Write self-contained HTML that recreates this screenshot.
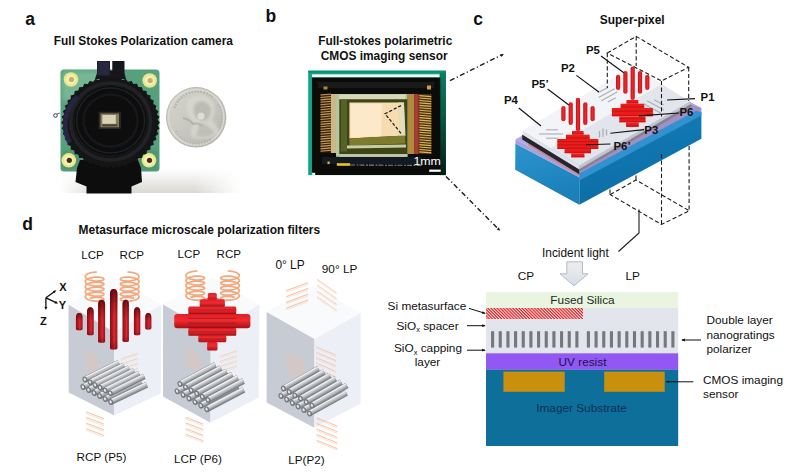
<!DOCTYPE html>
<html lang="en"><head><meta charset="utf-8"><title>Full Stokes polarization camera figure</title>
<style>
html,body{margin:0;padding:0;background:#fff;}
body{width:800px;height:473px;overflow:hidden;}
svg{display:block;font-family:"Liberation Sans", Arial, sans-serif;}
</style></head><body>
<svg width="800" height="473" viewBox="0 0 800 473">
<rect width="800" height="473" fill="#ffffff"/>
<defs>
<filter id="b1" x="-10%" y="-10%" width="120%" height="120%"><feGaussianBlur stdDeviation="0.6"/></filter>
<filter id="b2" x="-10%" y="-10%" width="120%" height="120%"><feGaussianBlur stdDeviation="1.2"/></filter>
<filter id="b3" x="-20%" y="-20%" width="140%" height="140%"><feGaussianBlur stdDeviation="2.5"/></filter>
<filter id="b05" x="-10%" y="-10%" width="120%" height="120%"><feGaussianBlur stdDeviation="0.35"/></filter>
<linearGradient id="pil" x1="0" x2="1" y1="0" y2="0">
<stop offset="0" stop-color="#8a0d14"/><stop offset="0.3" stop-color="#b4161e"/><stop offset="0.6" stop-color="#d22a32"/><stop offset="1" stop-color="#9c1018"/>
</linearGradient>
<linearGradient id="pilcap" x1="0" x2="0" y1="0" y2="1">
<stop offset="0" stop-color="#4a0508" stop-opacity="0.75"/><stop offset="0.25" stop-color="#4a0508" stop-opacity="0.25"/><stop offset="0.45" stop-color="#4a0508" stop-opacity="0"/><stop offset="0.85" stop-color="#4a0508" stop-opacity="0"/><stop offset="1" stop-color="#4a0508" stop-opacity="0.35"/>
</linearGradient>
<linearGradient id="pilc" x1="0" x2="1" y1="0" y2="0">
<stop offset="0" stop-color="#c01018"/><stop offset="0.5" stop-color="#ee2a2e"/><stop offset="1" stop-color="#c41218"/>
</linearGradient>
<linearGradient id="bar" x1="0" x2="0" y1="0" y2="1">
<stop offset="0" stop-color="#e02026"/><stop offset="0.45" stop-color="#ee2c30"/><stop offset="1" stop-color="#a81016"/>
</linearGradient>
<linearGradient id="rod" x1="0" x2="0" y1="0" y2="1">
<stop offset="0" stop-color="#f2f3f5"/><stop offset="0.35" stop-color="#c4c6ca"/><stop offset="1" stop-color="#6c6f75"/>
</linearGradient>
<linearGradient id="coin" x1="0" x2="1" y1="0" y2="1">
<stop offset="0" stop-color="#d6d5ce"/><stop offset="0.5" stop-color="#c9c8c0"/><stop offset="1" stop-color="#b4b3ab"/>
</linearGradient>
<radialGradient id="ring" cx="0.5" cy="0.5" r="0.5">
<stop offset="0" stop-color="#0c0c0e"/><stop offset="0.7" stop-color="#121214"/><stop offset="0.76" stop-color="#2a2a30"/><stop offset="0.9" stop-color="#1a1a1e"/><stop offset="1" stop-color="#0e0e10"/>
</radialGradient>
<pattern id="hatch" width="2.2" height="2.2" patternUnits="userSpaceOnUse" patternTransform="rotate(45)">
<rect width="2.2" height="2.2" fill="#f6d8d6"/><rect width="2.2" height="1.15" fill="#d8262c"/>
</pattern>
<linearGradient id="blueL" x1="0" x2="0.3" y1="0" y2="1">
<stop offset="0" stop-color="#2c95cd"/><stop offset="1" stop-color="#1b7fb9"/>
</linearGradient>
<linearGradient id="blueR" x1="0" x2="0.2" y1="0" y2="1">
<stop offset="0" stop-color="#137cb6"/><stop offset="1" stop-color="#0d6ea6"/>
</linearGradient>
<linearGradient id="flV" x1="0" x2="0" y1="0" y2="1">
<stop offset="0" stop-color="#dddcd6" stop-opacity="0"/><stop offset="1" stop-color="#d9d8d2" stop-opacity="1"/>
</linearGradient>
<linearGradient id="flH" x1="0" x2="1" y1="0" y2="0">
<stop offset="0" stop-color="#fff" stop-opacity="0"/><stop offset="0.2" stop-color="#fff" stop-opacity="1"/><stop offset="0.75" stop-color="#fff" stop-opacity="1"/><stop offset="1" stop-color="#fff" stop-opacity="0"/>
</linearGradient>
<mask id="flM"><rect x="60" y="165" width="180" height="28" fill="url(#flH)"/></mask>
<linearGradient id="gstrip" x1="0" x2="0" y1="0" y2="1">
<stop offset="0" stop-color="#06241a" stop-opacity="0"/><stop offset="0.35" stop-color="#06241a" stop-opacity="0.35"/><stop offset="1" stop-color="#04130d" stop-opacity="0.92"/>
</linearGradient>
<linearGradient id="arrowg" x1="0" x2="0" y1="0" y2="1">
<stop offset="0" stop-color="#ececec"/><stop offset="0.5" stop-color="#e4e7ea"/><stop offset="1" stop-color="#d3dce7"/>
</linearGradient>
</defs>
<text x="25.3" y="25" font-size="17.5" font-weight="700" text-anchor="start" fill="#111" >a</text>
<text x="265.6" y="22" font-size="17.5" font-weight="700" text-anchor="start" fill="#111" >b</text>
<text x="473.3" y="25" font-size="17.5" font-weight="700" text-anchor="start" fill="#111" >c</text>
<text x="22.3" y="229.8" font-size="17.5" font-weight="700" text-anchor="start" fill="#111" >d</text>
<text x="143.4" y="44.6" font-size="11.9" font-weight="700" text-anchor="middle" fill="#111" >Full Stokes Polarization camera</text>
<text x="385.2" y="44.6" font-size="11.9" font-weight="700" text-anchor="middle" fill="#111" >Full-stokes polarimetric</text>
<text x="384.2" y="60" font-size="11.9" font-weight="700" text-anchor="middle" fill="#111" >CMOS imaging sensor</text>
<text x="632.2" y="24.4" font-size="11.9" font-weight="700" text-anchor="middle" fill="#111" >Super-pixel</text>
<text x="78.6" y="234" font-size="11.95" font-weight="700" text-anchor="start" fill="#111" >Metasurface microscale polarization filters</text>
<g id="camera">
<rect x="60" y="168" width="180" height="25" fill="url(#flV)" mask="url(#flM)"/>
<rect x="60.500" y="69.500" width="99" height="102" rx="3.500" fill="#56a07e" filter="url(#b05)"/>
<rect x="62" y="71" width="60" height="30" rx="3" fill="#8cc6a4" opacity="0.6" filter="url(#b3)"/>
<rect x="62" y="150" width="96" height="20" rx="3" fill="#4a8a6a" opacity="0.5" filter="url(#b2)"/>
<circle cx="71" cy="79.5" r="7.3" fill="#e9e78c" filter="url(#b05)"/>
<circle cx="71" cy="79.5" r="5" fill="#f3f0b4" filter="url(#b05)"/>
<circle cx="71.5" cy="79.5" r="2.6" fill="#c8aa7a" filter="url(#b05)"/>
<circle cx="149.7" cy="80.5" r="7.3" fill="#e9e78c" filter="url(#b05)"/>
<circle cx="149.7" cy="80.5" r="5" fill="#f3f0b4" filter="url(#b05)"/>
<circle cx="150.2" cy="80.5" r="2.6" fill="#c8aa7a" filter="url(#b05)"/>
<circle cx="68.8" cy="160.3" r="7.3" fill="#e9e78c" filter="url(#b05)"/>
<circle cx="68.8" cy="160.3" r="5" fill="#f3f0b4" filter="url(#b05)"/>
<circle cx="69.3" cy="160.3" r="2.6" fill="#4a2a22" filter="url(#b05)"/>
<circle cx="149" cy="160.3" r="7.3" fill="#e9e78c" filter="url(#b05)"/>
<circle cx="149" cy="160.3" r="5" fill="#f3f0b4" filter="url(#b05)"/>
<circle cx="149.5" cy="160.3" r="2.6" fill="#4a2a22" filter="url(#b05)"/>
<path d="M97 61h13v9.500h2.300v-9.500h12.200v12l1.500 6h-31l2-6z" fill="#15161a" filter="url(#b05)"/>
<path d="M97.500 61.500h12v14h-12z" fill="#2a2a48" opacity="0.85" filter="url(#b05)"/>
<path d="M80 160l-3 8l-1.500 14l11 4.500v7h45v-7l10.500-4.500l-1-14l-3-8z" fill="#0d0e0d" filter="url(#b05)"/>
<polygon points="159.9,122.6 157.6,125.4 159.5,128.4 156.8,130.8 158.4,134.0 155.4,136.2 156.4,139.5 153.2,141.3 153.8,144.8 150.4,146.1 150.5,149.6 146.9,150.6 146.5,154.1 142.8,154.6 142.0,158.0 138.3,158.1 137.0,161.4 133.3,161.1 131.6,164.2 127.9,163.4 125.8,166.3 122.3,165.1 119.8,167.8 116.5,166.2 113.7,168.5 110.6,166.5 107.5,168.5 104.7,166.2 101.4,167.8 98.9,165.1 95.4,166.3 93.3,163.4 89.6,164.2 87.9,161.1 84.2,161.4 82.9,158.1 79.2,158.0 78.4,154.6 74.7,154.1 74.3,150.6 70.7,149.6 70.8,146.1 67.4,144.8 68.0,141.3 64.8,139.5 65.8,136.2 62.8,134.0 64.4,130.8 61.7,128.4 63.6,125.4 61.3,122.6 63.6,119.8 61.7,116.8 64.4,114.4 62.8,111.2 65.8,109.0 64.8,105.7 68.0,103.9 67.4,100.4 70.8,99.1 70.7,95.6 74.3,94.6 74.7,91.1 78.4,90.6 79.2,87.2 82.9,87.1 84.2,83.8 87.9,84.1 89.6,81.0 93.3,81.8 95.4,78.9 98.9,80.1 101.4,77.4 104.7,79.0 107.5,76.7 110.6,78.7 113.7,76.7 116.5,79.0 119.8,77.4 122.3,80.1 125.8,78.9 127.9,81.8 131.6,81.0 133.3,84.1 137.0,83.8 138.3,87.1 142.0,87.2 142.8,90.6 146.5,91.1 146.9,94.6 150.5,95.6 150.4,99.1 153.8,100.4 153.2,103.9 156.4,105.7 155.4,109.0 158.4,111.2 156.8,114.4 159.5,116.8 157.6,119.8" fill="#121314" filter="url(#b05)"/>
<ellipse cx="110.6" cy="122.6" rx="46.500" ry="43.500" fill="#141516"/>
<path d="M69.6 142.6a43 40 0 0 1 8 -46" fill="none" stroke="#2c2a4e" stroke-width="5" opacity="0.85" filter="url(#b1)"/>
<ellipse cx="110.6" cy="121.6" rx="40" ry="38.500" fill="none" stroke="#26272b" stroke-width="3.500" opacity="0.8" filter="url(#b1)"/>
<ellipse cx="110.6" cy="120.6" rx="35.600" ry="34.200" fill="#08090a" filter="url(#b05)"/>
<ellipse cx="110.6" cy="120.6" rx="34" ry="32.500" fill="none" stroke="#1f2022" stroke-width="1.500" filter="url(#b05)"/>
<ellipse cx="110.6" cy="120.6" rx="27" ry="26" fill="none" stroke="#17181a" stroke-width="2.500" filter="url(#b1)"/>
<circle cx="55.500" cy="115.500" r="1.800" fill="none" stroke="#3a3a3a" stroke-width="1" filter="url(#b05)"/>
<path d="M57 114l3 -1" stroke="#444" stroke-width="0.8"/>
<rect x="98.600" y="111.800" width="22.300" height="17.300" rx="1" fill="#2c2922" filter="url(#b05)"/>
<rect x="100.500" y="113.500" width="18.500" height="13.800" fill="#857b62" filter="url(#b05)"/>
<rect x="102.300" y="115" width="13.500" height="8.800" fill="#d9d1b6" filter="url(#b05)"/>
<rect x="102.300" y="124.300" width="15" height="2" fill="#4a4436" filter="url(#b05)"/>
<circle cx="196.200" cy="117.300" r="30.200" fill="#b6b5ae" filter="url(#b05)"/>
<circle cx="196.200" cy="117.300" r="29.300" fill="url(#coin)"/>
<circle cx="196.200" cy="117.300" r="27.600" fill="none" stroke="#dcdbd4" stroke-width="1.600" opacity="0.9" filter="url(#b05)"/>
<path d="M174.500 108a24 24 0 0 1 38 -11" fill="none" stroke="#a3a29b" stroke-width="2.400" stroke-dasharray="1.600 1.400" opacity="0.6" filter="url(#b05)"/>
<path d="M176 131a24 24 0 0 0 36 8" fill="none" stroke="#a3a29b" stroke-width="2" stroke-dasharray="1.500 1.500" opacity="0.45" filter="url(#b05)"/>
<path d="M218 104a24 24 0 0 1 0 27" fill="none" stroke="#a9a8a1" stroke-width="2" stroke-dasharray="1.500 1.500" opacity="0.45" filter="url(#b05)"/>
<path d="M188 100c6-6 18-6 24 1c4 6 4 13 0 18c3 5 7 9 8 14c-7 6-20 8-29 4c-1-6 0-11 3-15c-6-5-9-14-6-22z" fill="#dad9d2" opacity="0.7" filter="url(#b2)"/>
<path d="M196 103c5-3 12-1 14 4c2 5 0 10-4 13c-5 1-9-1-11-4c-2-4-2-9 1-13z" fill="#a5a49d" opacity="0.5" filter="url(#b2)"/>
<path d="M183 118c4 1 8 3 10 6c3-1 7 0 9 2" fill="none" stroke="#9e9d96" stroke-width="2.200" opacity="0.5" filter="url(#b1)"/>
<path d="M200 122c5 2 11 6 14 11c-5 4-12 5-18 3z" fill="#b1b0a9" opacity="0.55" filter="url(#b2)"/>
<circle cx="201" cy="116" r="3.500" fill="#ecebe4" opacity="0.7" filter="url(#b1)"/>
</g>
<g id="chip">
<rect x="308.200" y="70.700" width="137.700" height="104.400" fill="#12a486"/>
<rect x="440" y="72" width="5.900" height="103" fill="#0b7d62"/>
<rect x="440" y="72" width="5.900" height="103.100" fill="url(#gstrip)"/>
<rect x="308.200" y="70.700" width="137.700" height="2" fill="#0c8c70"/>
<rect x="312" y="74.300" width="127.500" height="3.200" fill="#eef4f0" filter="url(#b05)"/>
<path d="M312 77.500h128.300v97.600h-125.500l-2.800-3z" fill="#0b0b0a"/>
<path d="M318 82h116v6h-116z" fill="#1c1c1a" opacity="0.9" filter="url(#b1)"/>
<path d="M322 157h100v7h-100z" fill="#191a26" opacity="0.9" filter="url(#b05)"/>
<rect x="320.500" y="94" width="11" height="58.500" fill="#3a2410"/>
<rect x="419" y="94" width="12.500" height="60" fill="#4a3212"/>
<path d="M320.500 95.0l10.500 -1" stroke="#c89a58" stroke-width="1.1"/>
<path d="M419.300 95.6l12 1" stroke="#e0b858" stroke-width="1.1"/>
<path d="M320.500 97.5l10.500 -1" stroke="#c89a58" stroke-width="1.1"/>
<path d="M419.300 98.0l12 1" stroke="#e0b858" stroke-width="1.1"/>
<path d="M320.500 99.9l10.500 -1" stroke="#c89a58" stroke-width="1.1"/>
<path d="M419.300 100.5l12 1" stroke="#e0b858" stroke-width="1.1"/>
<path d="M320.500 102.3l10.500 -1" stroke="#c89a58" stroke-width="1.1"/>
<path d="M419.300 102.9l12 1" stroke="#e0b858" stroke-width="1.1"/>
<path d="M320.500 104.8l10.500 -1" stroke="#c89a58" stroke-width="1.1"/>
<path d="M419.300 105.4l12 1" stroke="#e0b858" stroke-width="1.1"/>
<path d="M320.500 107.2l10.500 -1" stroke="#c89a58" stroke-width="1.1"/>
<path d="M419.300 107.8l12 1" stroke="#e0b858" stroke-width="1.1"/>
<path d="M320.500 109.7l10.500 -1" stroke="#c89a58" stroke-width="1.1"/>
<path d="M419.300 110.3l12 1" stroke="#e0b858" stroke-width="1.1"/>
<path d="M320.500 112.2l10.500 -1" stroke="#c89a58" stroke-width="1.1"/>
<path d="M419.300 112.8l12 1" stroke="#e0b858" stroke-width="1.1"/>
<path d="M320.500 114.6l10.500 -1" stroke="#c89a58" stroke-width="1.1"/>
<path d="M419.300 115.2l12 1" stroke="#e0b858" stroke-width="1.1"/>
<path d="M320.500 117.0l10.500 -1" stroke="#c89a58" stroke-width="1.1"/>
<path d="M419.300 117.6l12 1" stroke="#e0b858" stroke-width="1.1"/>
<path d="M320.500 119.5l10.500 -1" stroke="#c89a58" stroke-width="1.1"/>
<path d="M419.300 120.1l12 1" stroke="#e0b858" stroke-width="1.1"/>
<path d="M320.500 122.0l10.500 -1" stroke="#c89a58" stroke-width="1.1"/>
<path d="M419.300 122.5l12 1" stroke="#e0b858" stroke-width="1.1"/>
<path d="M320.500 124.4l10.500 -1" stroke="#c89a58" stroke-width="1.1"/>
<path d="M419.300 125.0l12 1" stroke="#e0b858" stroke-width="1.1"/>
<path d="M320.500 126.8l10.500 -1" stroke="#c89a58" stroke-width="1.1"/>
<path d="M419.300 127.4l12 1" stroke="#e0b858" stroke-width="1.1"/>
<path d="M320.500 129.3l10.500 -1" stroke="#c89a58" stroke-width="1.1"/>
<path d="M419.300 129.9l12 1" stroke="#e0b858" stroke-width="1.1"/>
<path d="M320.500 131.8l10.500 -1" stroke="#c89a58" stroke-width="1.1"/>
<path d="M419.300 132.3l12 1" stroke="#e0b858" stroke-width="1.1"/>
<path d="M320.500 134.2l10.500 -1" stroke="#c89a58" stroke-width="1.1"/>
<path d="M419.300 134.8l12 1" stroke="#e0b858" stroke-width="1.1"/>
<path d="M320.500 136.7l10.500 -1" stroke="#c89a58" stroke-width="1.1"/>
<path d="M419.300 137.2l12 1" stroke="#e0b858" stroke-width="1.1"/>
<path d="M320.500 139.1l10.500 -1" stroke="#c89a58" stroke-width="1.1"/>
<path d="M419.300 139.7l12 1" stroke="#e0b858" stroke-width="1.1"/>
<path d="M320.500 141.6l10.500 -1" stroke="#c89a58" stroke-width="1.1"/>
<path d="M419.300 142.2l12 1" stroke="#e0b858" stroke-width="1.1"/>
<path d="M320.500 144.0l10.500 -1" stroke="#c89a58" stroke-width="1.1"/>
<path d="M419.300 144.6l12 1" stroke="#e0b858" stroke-width="1.1"/>
<path d="M320.500 146.4l10.500 -1" stroke="#c89a58" stroke-width="1.1"/>
<path d="M419.300 147.0l12 1" stroke="#e0b858" stroke-width="1.1"/>
<path d="M320.500 148.9l10.500 -1" stroke="#c89a58" stroke-width="1.1"/>
<path d="M419.300 149.5l12 1" stroke="#e0b858" stroke-width="1.1"/>
<path d="M320.500 151.3l10.500 -1" stroke="#c89a58" stroke-width="1.1"/>
<path d="M419.300 151.9l12 1" stroke="#e0b858" stroke-width="1.1"/>
<rect x="331" y="94" width="5" height="59" fill="#c9b888" filter="url(#b05)"/>
<rect x="414.200" y="94" width="4.600" height="60" fill="#a83a30" filter="url(#b05)"/>
<rect x="407.400" y="94" width="6.800" height="60" fill="#b08a3c" filter="url(#b05)"/>
<rect x="336" y="94" width="71.500" height="62.800" fill="#b7c4a0" filter="url(#b05)"/>
<rect x="339.300" y="99.200" width="68" height="55" fill="#3c4418" filter="url(#b05)"/>
<rect x="339.300" y="94.500" width="66" height="4.600" fill="#d8d8b8" filter="url(#b05)"/>
<rect x="341" y="99.500" width="6" height="52" fill="#5a6a2a" opacity="0.8" filter="url(#b05)"/>
<path d="M349.400 102.400h54.500l1 33l-55.500 3z" fill="#f6dcb0" filter="url(#b05)"/>
<path d="M351 104h31l-1 32l-30 1.500z" fill="#fdebcc" opacity="0.9" filter="url(#b05)"/>
<path d="M398 102.400h6l1.500 33.500l-6 2z" fill="#e4dcbc" opacity="0.95" filter="url(#b05)"/>
<path d="M349.400 138.400l55.500-3l0.500 8l-56 2z" fill="#7d7c2e" filter="url(#b05)"/>
<path d="M347 145.500l59-1v3l-59 1z" fill="#c8cca4" filter="url(#b05)"/>
<rect x="339.300" y="154.200" width="68" height="2.600" fill="#c4c8a8" filter="url(#b05)"/>
<path d="M350 165l72 0.400" stroke="#9a9a92" stroke-width="1.1" stroke-dasharray="5 1.5 2 1" opacity="0.85"/>
<rect x="336.800" y="163.200" width="13.200" height="2.600" fill="#e6c81e"/>
<rect x="327.500" y="161.500" width="2.200" height="2.600" fill="#d8b83a"/>
<rect x="323.500" y="86.500" width="4" height="3" fill="#a8883c" filter="url(#b05)"/>
<rect x="427" y="85.500" width="4" height="4" fill="#c8a040" filter="url(#b05)"/>
<rect x="312.200" y="172.800" width="3" height="2.300" fill="#e8f4f0"/>
<path d="M401 105.600L385 113.800L401.500 134" fill="none" stroke="#1c1c1c" stroke-width="1.2" stroke-dasharray="3.2 1.8"/>
<rect x="429.200" y="169.600" width="11.500" height="2.200" fill="#fff"/>
<text x="413.400" y="164.500" font-size="11.600" fill="#fff" textLength="27.500" lengthAdjust="spacingAndGlyphs">1mm</text>
</g>
<path d="M450 80.700L503 54.300" stroke="#1c1c1c" stroke-width="1.4" stroke-dasharray="5 2.5 1.2 2.5" fill="none"/>
<path d="M503.800 53.900l-3.600 0.300l1.400 2.800z" fill="#222"/>
<path d="M446 176.400L499.300 230" stroke="#1c1c1c" stroke-width="1.4" stroke-dasharray="5 2.5 1.2 2.5" fill="none"/>
<path d="M500 230.700l-3.300-1.200l2.200-2.200z" fill="#222"/>
<g id="superpixel">
<polygon points="515.4,143.4 579.3,177.3 579.3,204.8 515.2,169.8" fill="url(#blueL)" />
<polygon points="579.3,177.3 701.4,112.0 701.4,138.8 579.3,204.8" fill="url(#blueR)" />
<polygon points="515.6,139.2 637.5,73.0 701.4,108.0 579.3,173.5" fill="#b5a6e4" />
<polygon points="515.6,139.2 579.3,173.3 579.3,177.5 515.4,143.6" fill="#a9a0de" />
<polygon points="579.3,168.5 690.0,104.5 701.4,108.0 701.4,112.4 579.3,177.6" fill="#9d92c6" />
<polygon points="579.3,173.6 696.0,110.8 701.4,112.2 701.4,115.6 579.3,180.6" fill="#3391cf" />
<polygon points="528.0,143.0 579.3,174.0 579.3,176.3 528.0,145.2" fill="#c58a88" />
<polygon points="522.2,134.4 579.3,169.1 579.3,174.3 522.2,139.6" fill="#26252f" />
<polygon points="522.7,130.8 579.3,165.5 579.3,169.4 522.7,134.7" fill="#dfe2e6" />
<polygon points="579.3,168.5 690.0,104.3 693.0,106.1 579.3,171.7" fill="#8d7f90" />
<polygon points="579.3,165.5 690.0,101.5 690.0,104.5 579.3,168.9" fill="#bfc5cd" />
<polygon points="522.7,130.8 633.4,66.8 690,101.5 579.3,165.5" fill="#e2e6ec"/>
<polygon points="522.7,130.8 633.4,66.8 661.7,84.15 551.0,148.15" fill="#f2f4f7"/>
<path d="M546 129.8H558" stroke="#a9adb6" stroke-width="1.1"/>
<path d="M539 134H563" stroke="#a9adb6" stroke-width="1.1"/>
<path d="M546 138.2H558" stroke="#a9adb6" stroke-width="1.1"/>
<path d="M599.5 131V137.5" stroke="#a9adb6" stroke-width="1.3"/>
<path d="M603 128.5V137" stroke="#a9adb6" stroke-width="1.3"/>
<path d="M606.5 129.5V135.5" stroke="#a9adb6" stroke-width="1.3"/>
<path d="M600.0 91.8L608.0 87.5" stroke="#a9adb6" stroke-width="1.1"/>
<path d="M598.6 97.4L614.6 88.7" stroke="#a9adb6" stroke-width="1.1"/>
<path d="M601.2 100.8L617.2 92.1" stroke="#a9adb6" stroke-width="1.1"/>
<path d="M607.8 102.0L615.8 97.7" stroke="#a9adb6" stroke-width="1.1"/>
<path d="M654.2 99.8L663.6 104.9" stroke="#a9adb6" stroke-width="1.1"/>
<path d="M647.0 100.7L664.0 110.0" stroke="#a9adb6" stroke-width="1.1"/>
<path d="M644.0 103.9L661.0 113.2" stroke="#a9adb6" stroke-width="1.1"/>
<path d="M644.4 109.0L653.8 114.1" stroke="#a9adb6" stroke-width="1.1"/>
<rect x="616.0" y="74.7" width="4.2" height="15.3" rx="2" fill="url(#pilc)"/>
<rect x="623.3" y="71.0" width="4.2" height="22.7" rx="2" fill="url(#pilc)"/>
<rect x="630.6" y="66.5" width="4.2" height="33.5" rx="2" fill="url(#pilc)"/>
<rect x="637.9" y="71.0" width="4.2" height="22.7" rx="2" fill="url(#pilc)"/>
<rect x="645.2" y="74.7" width="4.2" height="15.3" rx="2" fill="url(#pilc)"/>
<rect x="626.5" y="100" width="11.8" height="3.7" fill="#ea1d1d"/>
<rect x="626.5" y="102.3" width="11.8" height="1.0" fill="#b80f10" opacity="0.75"/>
<rect x="620.6" y="103.7" width="23.6" height="4.3" fill="#ea1d1d"/>
<rect x="620.6" y="106.4" width="23.6" height="1.0" fill="#b80f10" opacity="0.75"/>
<rect x="611.9" y="108" width="41.0" height="8.4" fill="#ea1d1d"/>
<rect x="611.9" y="110.6" width="41.0" height="1.0" fill="#b80f10" opacity="0.75"/>
<rect x="611.9" y="114.8" width="41.0" height="1.0" fill="#b80f10" opacity="0.75"/>
<rect x="619.3" y="116.4" width="26.2" height="5.9" fill="#ea1d1d"/>
<rect x="619.3" y="118.2" width="26.2" height="1.0" fill="#b80f10" opacity="0.75"/>
<rect x="619.3" y="121.2" width="26.2" height="1.0" fill="#b80f10" opacity="0.75"/>
<rect x="626.1" y="122.3" width="12.6" height="4.7" fill="#ea1d1d"/>
<rect x="626.1" y="125.2" width="12.6" height="1.0" fill="#b80f10" opacity="0.75"/>
<rect x="561.3" y="105.9" width="4.2" height="15.3" rx="2" fill="url(#pilc)"/>
<rect x="568.6" y="102.2" width="4.2" height="22.7" rx="2" fill="url(#pilc)"/>
<rect x="575.9" y="97.7" width="4.2" height="33.5" rx="2" fill="url(#pilc)"/>
<rect x="583.2" y="102.2" width="4.2" height="22.7" rx="2" fill="url(#pilc)"/>
<rect x="590.5" y="105.9" width="4.2" height="15.3" rx="2" fill="url(#pilc)"/>
<rect x="572.0" y="131" width="11.6" height="3.7" fill="#ea1d1d"/>
<rect x="572.0" y="133.3" width="11.6" height="1.0" fill="#b80f10" opacity="0.75"/>
<rect x="565.9" y="134.7" width="23.8" height="4.3" fill="#ea1d1d"/>
<rect x="565.9" y="137.4" width="23.8" height="1.0" fill="#b80f10" opacity="0.75"/>
<rect x="557.3" y="139" width="41.0" height="10.0" fill="#ea1d1d"/>
<rect x="557.3" y="141.1" width="41.0" height="1.0" fill="#b80f10" opacity="0.75"/>
<rect x="557.3" y="144.4" width="41.0" height="1.0" fill="#b80f10" opacity="0.75"/>
<rect x="557.3" y="147.7" width="41.0" height="1.0" fill="#b80f10" opacity="0.75"/>
<rect x="564.6" y="149" width="26.4" height="4.3" fill="#ea1d1d"/>
<rect x="564.6" y="151.7" width="26.4" height="1.0" fill="#b80f10" opacity="0.75"/>
<rect x="571.2" y="153.3" width="13.2" height="4.2" fill="#ea1d1d"/>
<rect x="571.2" y="155.9" width="13.2" height="1.0" fill="#b80f10" opacity="0.75"/>
<path d="M607.3 53L636.2 36.4L688.7 67.3L661.5 80.9z" stroke="#1c1c1c" stroke-width="1.1" fill="none" stroke-dasharray="4.2 2.4"/>
<path d="M607.3 53V88 M636.2 36.4V66 M661.5 80.9V116.5 M688.7 67.3V101" stroke="#1c1c1c" stroke-width="1.1" fill="none" stroke-dasharray="4.2 2.4"/>
<path d="M661.5 154V224.500 M689.1 146V210.800" stroke="#1c1c1c" stroke-width="1.1" fill="none" stroke-dasharray="4.2 2.4"/>
<path d="M610.300 194.600L636 180L689.300 210.800L661.500 224.500z" stroke="#1c1c1c" stroke-width="1.1" fill="none" stroke-dasharray="4.2 2.4"/>
<path d="M610 189.500V194.600 M636 175.500V180" stroke="#1c1c1c" stroke-width="1.1" fill="none" stroke-dasharray="4.2 2.4"/>
<path d="M639 209.500V233L618.500 251.500" stroke="#1c1c1c" stroke-width="1.1" fill="none"/>
<text x="586" y="53.6" font-size="11.4" font-weight="700" text-anchor="start" fill="#111" >P5</text>
<path d="M601 56L623.800 72.800" stroke="#111" stroke-width="1.1" fill="none"/>
<text x="561" y="71.7" font-size="11.4" font-weight="700" text-anchor="start" fill="#111" >P2</text>
<path d="M576.400 75.400L599.200 92.300" stroke="#111" stroke-width="1.1" fill="none"/>
<text x="531.5" y="87.6" font-size="11.4" font-weight="700" text-anchor="start" fill="#111" >P5’</text>
<path d="M547.600 89L568.800 105" stroke="#111" stroke-width="1.1" fill="none"/>
<text x="504" y="104.4" font-size="11.4" font-weight="700" text-anchor="start" fill="#111" >P4</text>
<path d="M518.800 108L541 126" stroke="#111" stroke-width="1.1" fill="none"/>
<text x="700.6" y="101.4" font-size="11.4" font-weight="700" text-anchor="start" fill="#111" >P1</text>
<path d="M667 100L695 98.600" stroke="#111" stroke-width="1.1" fill="none"/>
<text x="679.5" y="116" font-size="11.4" font-weight="700" text-anchor="start" fill="#111" >P6</text>
<path d="M639 115.900L678.800 113" stroke="#111" stroke-width="1.1" fill="none"/>
<text x="644.3" y="133.8" font-size="11.4" font-weight="700" text-anchor="start" fill="#111" >P3</text>
<path d="M610.300 133.300L644 129.600" stroke="#111" stroke-width="1.1" fill="none"/>
<text x="613.5" y="149.7" font-size="11.4" font-weight="700" text-anchor="start" fill="#111" >P6’</text>
<path d="M586 144.800L610.500 144" stroke="#111" stroke-width="1.1" fill="none"/>
</g>
<g id="xsec">
<rect x="486" y="292" width="192.20000000000005" height="16" fill="#e9f5e1"/>
<rect x="486" y="308" width="192.20000000000005" height="45.500" fill="#e2e6ec"/>
<rect x="486" y="308" width="97" height="11" fill="url(#hatch)"/>
<rect x="491.05" y="331.200" width="3.100" height="16.400" fill="#77787c"/>
<rect x="498.71" y="331.200" width="3.100" height="16.400" fill="#77787c"/>
<rect x="506.38" y="331.200" width="3.100" height="16.400" fill="#77787c"/>
<rect x="514.04" y="331.200" width="3.100" height="16.400" fill="#77787c"/>
<rect x="521.71" y="331.200" width="3.100" height="16.400" fill="#77787c"/>
<rect x="529.37" y="331.200" width="3.100" height="16.400" fill="#77787c"/>
<rect x="537.03" y="331.200" width="3.100" height="16.400" fill="#77787c"/>
<rect x="544.70" y="331.200" width="3.100" height="16.400" fill="#77787c"/>
<rect x="552.36" y="331.200" width="3.100" height="16.400" fill="#77787c"/>
<rect x="560.03" y="331.200" width="3.100" height="16.400" fill="#77787c"/>
<rect x="567.69" y="331.200" width="3.100" height="16.400" fill="#77787c"/>
<rect x="575.35" y="331.200" width="3.100" height="16.400" fill="#77787c"/>
<rect x="586.85" y="331.200" width="3.100" height="16.400" fill="#77787c"/>
<rect x="594.53" y="331.200" width="3.100" height="16.400" fill="#77787c"/>
<rect x="602.21" y="331.200" width="3.100" height="16.400" fill="#77787c"/>
<rect x="609.90" y="331.200" width="3.100" height="16.400" fill="#77787c"/>
<rect x="617.58" y="331.200" width="3.100" height="16.400" fill="#77787c"/>
<rect x="625.26" y="331.200" width="3.100" height="16.400" fill="#77787c"/>
<rect x="632.94" y="331.200" width="3.100" height="16.400" fill="#77787c"/>
<rect x="640.62" y="331.200" width="3.100" height="16.400" fill="#77787c"/>
<rect x="648.31" y="331.200" width="3.100" height="16.400" fill="#77787c"/>
<rect x="655.99" y="331.200" width="3.100" height="16.400" fill="#77787c"/>
<rect x="663.67" y="331.200" width="3.100" height="16.400" fill="#77787c"/>
<rect x="671.35" y="331.200" width="3.100" height="16.400" fill="#77787c"/>
<rect x="486" y="353.300" width="192.20000000000005" height="16.500" fill="#9158f4"/>
<rect x="486" y="369.700" width="192.20000000000005" height="76.300" fill="#0f6f9b"/>
<rect x="503.400" y="371.600" width="61.300" height="20.200" fill="#c8900c"/>
<rect x="604.200" y="371.600" width="60.500" height="20.200" fill="#c8900c"/>
<text x="582.5" y="304.3" font-size="11.8" text-anchor="middle" fill="#1a2a1a" >Fused Silica</text>
<text x="582.5" y="366" font-size="11.8" text-anchor="middle" fill="#1a1050" >UV resist</text>
<text x="581.5" y="412" font-size="11.8" text-anchor="middle" fill="#0a2f55" >Imager Substrate</text>
<text x="542" y="256.7" font-size="11.9" text-anchor="start" fill="#111" >Incident light</text>
<text x="517.7" y="280" font-size="11.8" text-anchor="start" fill="#111" >CP</text>
<text x="625.4" y="279.7" font-size="11.8" text-anchor="start" fill="#111" >LP</text>
<path d="M566.800 261.800h15.700v12h5.500l-14 12l-14-12h6.800z" fill="url(#arrowg)" stroke="#aab6c4" stroke-width="0.9" stroke-linejoin="round"/>
<text x="466.3" y="310.3" font-size="11.8" text-anchor="end" fill="#111" >Si metasurface</text>
<text x="458.600" y="329.600" font-size="11.800" text-anchor="end" fill="#111">SiO<tspan font-size="7.500" dy="2.200">x</tspan><tspan dy="-2.200"> spacer</tspan></text>
<text x="462" y="352.400" font-size="11.800" text-anchor="end" fill="#111">SiO<tspan font-size="7.500" dy="2.200">x</tspan><tspan dy="-2.200"> capping</tspan></text>
<text x="427.5" y="366.2" font-size="11.8" text-anchor="middle" fill="#111" >layer</text>
<path d="M469 308.4L485 313.3" stroke="#111" stroke-width="1" fill="none"/>
<path d="M485.76 313.53L481.84 313.79L482.65 311.13z" fill="#111"/>
<path d="M467 325.7L485 325.7" stroke="#111" stroke-width="1" fill="none"/>
<path d="M485.80 325.70L482.12 327.09L482.12 324.31z" fill="#111"/>
<path d="M467 350.2L485 350.2" stroke="#111" stroke-width="1" fill="none"/>
<path d="M485.80 350.20L482.12 351.59L482.12 348.81z" fill="#111"/>
<path d="M701 340L682 340" stroke="#111" stroke-width="1" fill="none"/>
<path d="M681.20 340.00L684.88 338.61L684.88 341.39z" fill="#111"/>
<path d="M693.3 381.8L666.5 381.8" stroke="#111" stroke-width="1" fill="none"/>
<path d="M665.70 381.80L668.66 380.76L668.66 382.84z" fill="#111"/>
<text x="706.5" y="324.3" font-size="11.8" text-anchor="start" fill="#111" >Double layer</text>
<text x="706.5" y="338.6" font-size="11.8" text-anchor="start" fill="#111" >nanogratings</text>
<text x="706.5" y="352.6" font-size="11.8" text-anchor="start" fill="#111" >polarizer</text>
<text x="703" y="384" font-size="11.8" text-anchor="start" fill="#111" >CMOS imaging</text>
<text x="703" y="398" font-size="11.8" text-anchor="start" fill="#111" >sensor</text>
</g>
<g id="filters">
<path d="M45.900 297.800L55 291.200M45.900 297.800L56.600 302.900M45.900 297.800V308" stroke="#111" stroke-width="1.3" fill="none"/>
<path d="M56.300 290.300l-3.400 0.600l1.700 2.400z M58 303.600l-3.500-0.200l1.400-2.600z M45.900 310l-1.500-3h3z" fill="#111"/>
<text x="59.2" y="290.9" font-size="11" font-weight="700" text-anchor="start" fill="#111" >X</text>
<text x="58.8" y="309" font-size="11" font-weight="700" text-anchor="start" fill="#111" >Y</text>
<text x="40" y="325.1" font-size="11" font-weight="700" text-anchor="start" fill="#111" >Z</text>
<text x="81.2" y="258.6" font-size="11.6" text-anchor="start" fill="#111" >LCP</text>
<text x="119.6" y="258.6" font-size="11.6" text-anchor="start" fill="#111" >RCP</text>
<text x="177.6" y="258" font-size="11.6" text-anchor="start" fill="#111" >LCP</text>
<text x="216.6" y="258" font-size="11.6" text-anchor="start" fill="#111" >RCP</text>
<text x="275.4" y="269.2" font-size="11.9" text-anchor="start" fill="#111" >0° LP</text>
<text x="321.8" y="272.5" font-size="11.8" text-anchor="start" fill="#111" >90° LP</text>
<text x="101.5" y="461.3" font-size="11.7" text-anchor="middle" fill="#111" >RCP (P5)</text>
<text x="198" y="462.6" font-size="11.7" text-anchor="middle" fill="#111" >LCP (P6)</text>
<text x="306.4" y="464" font-size="11.7" text-anchor="middle" fill="#111" >LP(P2)</text>
<polygon points="68.5,304.8 115.7,277.79999999999995 161.5,305 114.3,332" fill="#f9fafc"/>
<polygon points="68.5,304.8 114.3,332 114.3,415.5 68.7,392.4" fill="#c7cbd3"/>
<polygon points="114.3,332 161.5,305 160.7,393.4 114.3,415.5" fill="#ecEff5"/>
<path d="M86 350l13 7.500v18l-13-7.500z" fill="#f0c4a6" opacity="0.3" filter="url(#b1)"/>
<path d="M121.0 359.0l16.5 -5.5" stroke="#f2b088" stroke-width="1.0" opacity="0.45" stroke-linecap="round"/>
<path d="M121.0 360.6l16.5 -5.5" stroke="#f7d3bb" stroke-width="0.80" opacity="0.45" stroke-linecap="round"/>
<path d="M121.0 364.0l16.5 -5.5" stroke="#f2b088" stroke-width="1.0" opacity="0.45" stroke-linecap="round"/>
<path d="M121.0 365.6l16.5 -5.5" stroke="#f7d3bb" stroke-width="0.80" opacity="0.45" stroke-linecap="round"/>
<path d="M121.0 369.0l16.5 -5.5" stroke="#f2b088" stroke-width="1.0" opacity="0.45" stroke-linecap="round"/>
<path d="M121.0 370.6l16.5 -5.5" stroke="#f7d3bb" stroke-width="0.80" opacity="0.45" stroke-linecap="round"/>
<path d="M121.0 374.0l16.5 -5.5" stroke="#f2b088" stroke-width="1.0" opacity="0.45" stroke-linecap="round"/>
<path d="M121.0 375.6l16.5 -5.5" stroke="#f7d3bb" stroke-width="0.80" opacity="0.45" stroke-linecap="round"/>
<path d="M83.00 387.00l36 -17.3" stroke="#7e8187" stroke-width="6.0" opacity="1"/>
<path d="M82.74 386.46l36 -17.3" stroke="#a4a7ac" stroke-width="4.4" opacity="1"/>
<path d="M82.48 385.92l36 -17.3" stroke="#c9cbcf" stroke-width="2.8" opacity="1"/>
<path d="M82.18 385.29l36 -17.3" stroke="#eff0f1" stroke-width="1.2" opacity="1"/>
<ellipse cx="83.0" cy="387.0" rx="2.4" ry="3.0" transform="rotate(-28 83.0 387.0)" fill="#75787e"/>
<ellipse cx="82.9" cy="386.8" rx="1.1" ry="1.6" transform="rotate(-28 83.0 387.0)" fill="#e3e4e6"/>
<path d="M88.56 390.00l36 -17.3" stroke="#7e8187" stroke-width="6.0" opacity="1"/>
<path d="M88.30 389.46l36 -17.3" stroke="#a4a7ac" stroke-width="4.4" opacity="1"/>
<path d="M88.04 388.92l36 -17.3" stroke="#c9cbcf" stroke-width="2.8" opacity="1"/>
<path d="M87.74 388.29l36 -17.3" stroke="#eff0f1" stroke-width="1.2" opacity="1"/>
<ellipse cx="88.6" cy="390.0" rx="2.4" ry="3.0" transform="rotate(-28 88.6 390.0)" fill="#75787e"/>
<ellipse cx="88.5" cy="389.8" rx="1.1" ry="1.6" transform="rotate(-28 88.6 390.0)" fill="#e3e4e6"/>
<path d="M94.12 393.00l36 -17.3" stroke="#7e8187" stroke-width="6.0" opacity="1"/>
<path d="M93.86 392.46l36 -17.3" stroke="#a4a7ac" stroke-width="4.4" opacity="1"/>
<path d="M93.60 391.92l36 -17.3" stroke="#c9cbcf" stroke-width="2.8" opacity="1"/>
<path d="M93.30 391.29l36 -17.3" stroke="#eff0f1" stroke-width="1.2" opacity="1"/>
<ellipse cx="94.1" cy="393.0" rx="2.4" ry="3.0" transform="rotate(-28 94.1 393.0)" fill="#75787e"/>
<ellipse cx="94.0" cy="392.8" rx="1.1" ry="1.6" transform="rotate(-28 94.1 393.0)" fill="#e3e4e6"/>
<path d="M99.68 396.00l36 -17.3" stroke="#7e8187" stroke-width="6.0" opacity="1"/>
<path d="M99.42 395.46l36 -17.3" stroke="#a4a7ac" stroke-width="4.4" opacity="1"/>
<path d="M99.16 394.92l36 -17.3" stroke="#c9cbcf" stroke-width="2.8" opacity="1"/>
<path d="M98.86 394.29l36 -17.3" stroke="#eff0f1" stroke-width="1.2" opacity="1"/>
<ellipse cx="99.7" cy="396.0" rx="2.4" ry="3.0" transform="rotate(-28 99.7 396.0)" fill="#75787e"/>
<ellipse cx="99.6" cy="395.8" rx="1.1" ry="1.6" transform="rotate(-28 99.7 396.0)" fill="#e3e4e6"/>
<path d="M105.24 399.00l36 -17.3" stroke="#7e8187" stroke-width="6.0" opacity="1"/>
<path d="M104.98 398.46l36 -17.3" stroke="#a4a7ac" stroke-width="4.4" opacity="1"/>
<path d="M104.72 397.92l36 -17.3" stroke="#c9cbcf" stroke-width="2.8" opacity="1"/>
<path d="M104.42 397.29l36 -17.3" stroke="#eff0f1" stroke-width="1.2" opacity="1"/>
<ellipse cx="105.2" cy="399.0" rx="2.4" ry="3.0" transform="rotate(-28 105.2 399.0)" fill="#75787e"/>
<ellipse cx="105.1" cy="398.8" rx="1.1" ry="1.6" transform="rotate(-28 105.2 399.0)" fill="#e3e4e6"/>
<path d="M110.80 402.00l36 -17.3" stroke="#7e8187" stroke-width="6.0" opacity="1"/>
<path d="M110.54 401.46l36 -17.3" stroke="#a4a7ac" stroke-width="4.4" opacity="1"/>
<path d="M110.28 400.92l36 -17.3" stroke="#c9cbcf" stroke-width="2.8" opacity="1"/>
<path d="M109.98 400.29l36 -17.3" stroke="#eff0f1" stroke-width="1.2" opacity="1"/>
<ellipse cx="110.8" cy="402.0" rx="2.4" ry="3.0" transform="rotate(-28 110.8 402.0)" fill="#75787e"/>
<ellipse cx="110.7" cy="401.8" rx="1.1" ry="1.6" transform="rotate(-28 110.8 402.0)" fill="#e3e4e6"/>
<path d="M85.00 379.50l34 -16.8" stroke="#7e8187" stroke-width="6.0" opacity="1"/>
<path d="M84.73 378.96l34 -16.8" stroke="#a4a7ac" stroke-width="4.4" opacity="1"/>
<path d="M84.47 378.42l34 -16.8" stroke="#c9cbcf" stroke-width="2.8" opacity="1"/>
<path d="M84.16 377.80l34 -16.8" stroke="#eff0f1" stroke-width="1.2" opacity="1"/>
<ellipse cx="85.0" cy="379.5" rx="2.4" ry="3.0" transform="rotate(-28 85.0 379.5)" fill="#75787e"/>
<ellipse cx="84.9" cy="379.3" rx="1.1" ry="1.6" transform="rotate(-28 85.0 379.5)" fill="#e3e4e6"/>
<path d="M90.06 382.24l34 -16.8" stroke="#7e8187" stroke-width="6.0" opacity="1"/>
<path d="M89.79 381.70l34 -16.8" stroke="#a4a7ac" stroke-width="4.4" opacity="1"/>
<path d="M89.53 381.16l34 -16.8" stroke="#c9cbcf" stroke-width="2.8" opacity="1"/>
<path d="M89.22 380.54l34 -16.8" stroke="#eff0f1" stroke-width="1.2" opacity="1"/>
<ellipse cx="90.1" cy="382.2" rx="2.4" ry="3.0" transform="rotate(-28 90.1 382.2)" fill="#75787e"/>
<ellipse cx="90.0" cy="382.0" rx="1.1" ry="1.6" transform="rotate(-28 90.1 382.2)" fill="#e3e4e6"/>
<path d="M95.12 384.98l34 -16.8" stroke="#7e8187" stroke-width="6.0" opacity="1"/>
<path d="M94.85 384.44l34 -16.8" stroke="#a4a7ac" stroke-width="4.4" opacity="1"/>
<path d="M94.59 383.90l34 -16.8" stroke="#c9cbcf" stroke-width="2.8" opacity="1"/>
<path d="M94.28 383.28l34 -16.8" stroke="#eff0f1" stroke-width="1.2" opacity="1"/>
<ellipse cx="95.1" cy="385.0" rx="2.4" ry="3.0" transform="rotate(-28 95.1 385.0)" fill="#75787e"/>
<ellipse cx="95.0" cy="384.8" rx="1.1" ry="1.6" transform="rotate(-28 95.1 385.0)" fill="#e3e4e6"/>
<path d="M100.18 387.72l34 -16.8" stroke="#7e8187" stroke-width="6.0" opacity="1"/>
<path d="M99.91 387.18l34 -16.8" stroke="#a4a7ac" stroke-width="4.4" opacity="1"/>
<path d="M99.65 386.64l34 -16.8" stroke="#c9cbcf" stroke-width="2.8" opacity="1"/>
<path d="M99.34 386.02l34 -16.8" stroke="#eff0f1" stroke-width="1.2" opacity="1"/>
<ellipse cx="100.2" cy="387.7" rx="2.4" ry="3.0" transform="rotate(-28 100.2 387.7)" fill="#75787e"/>
<ellipse cx="100.1" cy="387.5" rx="1.1" ry="1.6" transform="rotate(-28 100.2 387.7)" fill="#e3e4e6"/>
<path d="M105.24 390.46l34 -16.8" stroke="#7e8187" stroke-width="6.0" opacity="1"/>
<path d="M104.97 389.92l34 -16.8" stroke="#a4a7ac" stroke-width="4.4" opacity="1"/>
<path d="M104.71 389.38l34 -16.8" stroke="#c9cbcf" stroke-width="2.8" opacity="1"/>
<path d="M104.40 388.76l34 -16.8" stroke="#eff0f1" stroke-width="1.2" opacity="1"/>
<ellipse cx="105.2" cy="390.5" rx="2.4" ry="3.0" transform="rotate(-28 105.2 390.5)" fill="#75787e"/>
<ellipse cx="105.1" cy="390.3" rx="1.1" ry="1.6" transform="rotate(-28 105.2 390.5)" fill="#e3e4e6"/>
<path d="M110.30 393.20l34 -16.8" stroke="#7e8187" stroke-width="6.0" opacity="1"/>
<path d="M110.03 392.66l34 -16.8" stroke="#a4a7ac" stroke-width="4.4" opacity="1"/>
<path d="M109.77 392.12l34 -16.8" stroke="#c9cbcf" stroke-width="2.8" opacity="1"/>
<path d="M109.46 391.50l34 -16.8" stroke="#eff0f1" stroke-width="1.2" opacity="1"/>
<ellipse cx="110.3" cy="393.2" rx="2.4" ry="3.0" transform="rotate(-28 110.3 393.2)" fill="#75787e"/>
<ellipse cx="110.2" cy="393.0" rx="1.1" ry="1.6" transform="rotate(-28 110.3 393.2)" fill="#e3e4e6"/>
<path d="M86.5 412.0l17 6.5" stroke="#f2b088" stroke-width="1.1" opacity="0.7" stroke-linecap="round"/>
<path d="M86.5 413.6l17 6.5" stroke="#f7d3bb" stroke-width="0.88" opacity="0.7" stroke-linecap="round"/>
<path d="M86.5 417.6l17 6.5" stroke="#f2b088" stroke-width="1.1" opacity="0.7" stroke-linecap="round"/>
<path d="M86.5 419.2l17 6.5" stroke="#f7d3bb" stroke-width="0.88" opacity="0.7" stroke-linecap="round"/>
<path d="M86.5 423.2l17 6.5" stroke="#f2b088" stroke-width="1.1" opacity="0.7" stroke-linecap="round"/>
<path d="M86.5 424.8l17 6.5" stroke="#f7d3bb" stroke-width="0.88" opacity="0.7" stroke-linecap="round"/>
<path d="M86.5 428.8l17 6.5" stroke="#f2b088" stroke-width="1.1" opacity="0.7" stroke-linecap="round"/>
<path d="M86.5 430.4l17 6.5" stroke="#f7d3bb" stroke-width="0.88" opacity="0.7" stroke-linecap="round"/>
<path d="M96.2 272.0 L94.8 272.1 L93.3 272.3 L91.9 272.5 L90.5 272.8 L89.3 273.2 L88.1 273.6 L87.2 274.1 L86.4 274.7 L85.8 275.2 L85.4 275.8 L85.3 276.4 L85.4 277.0 L85.7 277.7 L86.2 278.2 L87.0 278.8 L87.9 279.3 L89.0 279.7 L90.2 280.1 L91.6 280.4 L93.0 280.7 L94.4 280.9 L95.9 281.0 L97.3 281.0 L98.7 280.9 L99.9 280.8 L101.1 280.6 L102.0 280.4 L102.8 280.1 L103.4 279.8 L103.8 279.4 L103.9 279.1 L103.8 278.7 L103.5 278.4 L103.0 278.0 L102.2 277.7 L101.3 277.5 L100.2 277.3 L99.0 277.2 L97.6 277.1 L96.2 277.1 L94.8 277.2 L93.3 277.3 L91.9 277.6 L90.5 277.9 L89.3 278.3 L88.1 278.7 L87.2 279.2 L86.4 279.7 L85.8 280.3 L85.4 280.9 L85.3 281.5 L85.4 282.1 L85.7 282.7 L86.2 283.3 L87.0 283.8 L87.9 284.3 L89.0 284.8 L90.2 285.2 L91.6 285.5 L93.0 285.7 L94.4 285.9 L95.9 286.0 L97.3 286.0 L98.7 286.0 L99.9 285.9 L101.1 285.7 L102.0 285.4 L102.8 285.2 L103.4 284.8 L103.8 284.5 L103.9 284.1 L103.8 283.8 L103.5 283.4 L103.0 283.1 L102.2 282.8 L101.3 282.6 L100.2 282.4 L99.0 282.2 L97.6 282.2 L96.2 282.2 L94.8 282.2 L93.3 282.4 L91.9 282.6 L90.5 282.9 L89.3 283.3 L88.1 283.7 L87.2 284.2 L86.4 284.8 L85.8 285.3 L85.4 285.9 L85.3 286.6 L85.4 287.2 L85.7 287.8 L86.2 288.3 L87.0 288.9 L87.9 289.4 L89.0 289.8 L90.2 290.2 L91.6 290.6 L93.0 290.8 L94.4 291.0 L95.9 291.1 L97.3 291.1 L98.7 291.0 L99.9 290.9 L101.1 290.7 L102.0 290.5 L102.8 290.2 L103.4 289.9 L103.8 289.6 L103.9 289.2 L103.8 288.8 L103.5 288.5 L103.0 288.2 L102.2 287.9 L101.3 287.6 L100.2 287.4 L99.0 287.3 L97.6 287.2 L96.2 287.2 L94.8 287.3 L93.3 287.5 L91.9 287.7 L90.5 288.0 L89.3 288.4 L88.1 288.8 L87.2 289.3 L86.4 289.8 L85.8 290.4 L85.4 291.0 L85.3 291.6 L85.4 292.2 L85.7 292.8 L86.2 293.4 L87.0 294.0 L87.9 294.5 L89.0 294.9 L90.2 295.3 L91.6 295.6 L93.0 295.9 L94.4 296.0 L95.9 296.1 L97.3 296.1 L98.7 296.1 L99.9 296.0 L101.1 295.8 L102.0 295.6 L102.8 295.3 L103.4 295.0 L103.8 294.6 L103.9 294.3 L103.8 293.9 L103.5 293.5 L103.0 293.2 L102.2 292.9 L101.3 292.7 L100.2 292.5 L99.0 292.3 L97.6 292.3 L96.2 292.3 L94.8 292.4 L93.3 292.5 L91.9 292.8 L90.5 293.1 L89.3 293.4 L88.1 293.9 L87.2 294.4 L86.4 294.9 L85.8 295.5 L85.4 296.1 L85.3 296.7 L85.4 297.3 L85.7 297.9 L86.2 298.5 L87.0 299.0 L87.9 299.5 L89.0 300.0 L90.2 300.3 L91.6 300.7 L93.0 300.9 L94.4 301.1 L95.9 301.2 L97.3 301.2 L98.7 301.2 L99.9 301.0 L101.1 300.9 L102.0 300.6 L102.8 300.3 L103.4 300.0 L103.8 299.7 L103.9 299.3 L103.8 299.0 L103.5 298.6 L103.0 298.3 L102.2 298.0 L101.3 297.7 L100.2 297.5 L99.0 297.4 L97.6 297.3 L96.2 297.3 L94.8 297.4 L93.3 297.6 L91.9 297.8 L90.5 298.1" fill="none" stroke="#f1a87c" stroke-width="1.7" stroke-linecap="round"/>
<path d="M128.1 272.0 L129.5 272.1 L131.0 272.3 L132.4 272.5 L133.8 272.8 L135.0 273.2 L136.2 273.6 L137.1 274.1 L137.9 274.7 L138.5 275.2 L138.9 275.8 L139.0 276.4 L138.9 277.0 L138.6 277.7 L138.1 278.2 L137.3 278.8 L136.4 279.3 L135.3 279.7 L134.1 280.1 L132.7 280.4 L131.3 280.7 L129.9 280.9 L128.4 281.0 L127.0 281.0 L125.6 280.9 L124.4 280.8 L123.2 280.6 L122.3 280.4 L121.5 280.1 L120.9 279.8 L120.5 279.4 L120.4 279.1 L120.5 278.7 L120.8 278.4 L121.3 278.0 L122.1 277.7 L123.0 277.5 L124.1 277.3 L125.3 277.2 L126.7 277.1 L128.1 277.1 L129.5 277.2 L131.0 277.3 L132.4 277.6 L133.8 277.9 L135.0 278.3 L136.2 278.7 L137.1 279.2 L137.9 279.7 L138.5 280.3 L138.9 280.9 L139.0 281.5 L138.9 282.1 L138.6 282.7 L138.1 283.3 L137.3 283.8 L136.4 284.3 L135.3 284.8 L134.1 285.2 L132.7 285.5 L131.3 285.7 L129.9 285.9 L128.4 286.0 L127.0 286.0 L125.6 286.0 L124.4 285.9 L123.2 285.7 L122.3 285.4 L121.5 285.2 L120.9 284.8 L120.5 284.5 L120.4 284.1 L120.5 283.8 L120.8 283.4 L121.3 283.1 L122.1 282.8 L123.0 282.6 L124.1 282.4 L125.3 282.2 L126.7 282.2 L128.1 282.2 L129.5 282.2 L131.0 282.4 L132.4 282.6 L133.8 282.9 L135.0 283.3 L136.2 283.7 L137.1 284.2 L137.9 284.8 L138.5 285.3 L138.9 285.9 L139.0 286.6 L138.9 287.2 L138.6 287.8 L138.1 288.3 L137.3 288.9 L136.4 289.4 L135.3 289.8 L134.1 290.2 L132.7 290.6 L131.3 290.8 L129.9 291.0 L128.4 291.1 L127.0 291.1 L125.6 291.0 L124.4 290.9 L123.2 290.7 L122.3 290.5 L121.5 290.2 L120.9 289.9 L120.5 289.6 L120.4 289.2 L120.5 288.8 L120.8 288.5 L121.3 288.2 L122.1 287.9 L123.0 287.6 L124.1 287.4 L125.3 287.3 L126.7 287.2 L128.1 287.2 L129.5 287.3 L131.0 287.5 L132.4 287.7 L133.8 288.0 L135.0 288.4 L136.2 288.8 L137.1 289.3 L137.9 289.8 L138.5 290.4 L138.9 291.0 L139.0 291.6 L138.9 292.2 L138.6 292.8 L138.1 293.4 L137.3 294.0 L136.4 294.5 L135.3 294.9 L134.1 295.3 L132.7 295.6 L131.3 295.9 L129.9 296.0 L128.4 296.1 L127.0 296.1 L125.6 296.1 L124.4 296.0 L123.2 295.8 L122.3 295.6 L121.5 295.3 L120.9 295.0 L120.5 294.6 L120.4 294.3 L120.5 293.9 L120.8 293.5 L121.3 293.2 L122.1 292.9 L123.0 292.7 L124.1 292.5 L125.3 292.3 L126.7 292.3 L128.1 292.3 L129.5 292.4 L131.0 292.5 L132.4 292.8 L133.8 293.1 L135.0 293.4 L136.2 293.9 L137.1 294.4 L137.9 294.9 L138.5 295.5 L138.9 296.1 L139.0 296.7 L138.9 297.3 L138.6 297.9 L138.1 298.5 L137.3 299.0 L136.4 299.5 L135.3 300.0 L134.1 300.3 L132.7 300.7 L131.3 300.9 L129.9 301.1 L128.4 301.2 L127.0 301.2 L125.6 301.2 L124.4 301.0 L123.2 300.9 L122.3 300.6 L121.5 300.3 L120.9 300.0 L120.5 299.7 L120.4 299.3 L120.5 299.0 L120.8 298.6 L121.3 298.3 L122.1 298.0 L123.0 297.7 L124.1 297.5 L125.3 297.4 L126.7 297.3 L128.1 297.3 L129.5 297.4 L131.0 297.6 L132.4 297.8 L133.8 298.1" fill="none" stroke="#f1a87c" stroke-width="1.7" stroke-linecap="round"/>
<path d="M75.9 328.8V318.1C75.9 314.1 77.58 313.1 79.25 313.1C80.92 313.1 82.6 314.1 82.6 318.1V328.8Q82.6 330.3 79.25 330.3Q75.9 330.3 75.9 328.8z" fill="url(#pil)"/>
<path d="M75.9 328.8V318.1C75.9 314.1 77.58 313.1 79.25 313.1C80.92 313.1 82.6 314.1 82.6 318.1V328.8Q82.6 330.3 79.25 330.3Q75.9 330.3 75.9 328.8z" fill="url(#pilcap)"/>
<path d="M87 333.8V312.2C87 308.2 88.67 307.2 90.35 307.2C92.03 307.2 93.7 308.2 93.7 312.2V333.8Q93.7 335.3 90.35 335.3Q87 335.3 87 333.8z" fill="url(#pil)"/>
<path d="M87 333.8V312.2C87 308.2 88.67 307.2 90.35 307.2C92.03 307.2 93.7 308.2 93.7 312.2V333.8Q93.7 335.3 90.35 335.3Q87 335.3 87 333.8z" fill="url(#pilcap)"/>
<path d="M98.1 341.2V304.8C98.1 300.8 99.85 299.8 101.60 299.8C103.35 299.8 105.1 300.8 105.1 304.8V341.2Q105.1 342.7 101.60 342.7Q98.1 342.7 98.1 341.2z" fill="url(#pil)"/>
<path d="M98.1 341.2V304.8C98.1 300.8 99.85 299.8 101.60 299.8C103.35 299.8 105.1 300.8 105.1 304.8V341.2Q105.1 342.7 101.60 342.7Q98.1 342.7 98.1 341.2z" fill="url(#pilcap)"/>
<path d="M110 348.1V294.1C110 290.1 111.85 289.1 113.70 289.1C115.55 289.1 117.4 290.1 117.4 294.1V348.1Q117.4 349.6 113.70 349.6Q110 349.6 110 348.1z" fill="url(#pil)"/>
<path d="M110 348.1V294.1C110 290.1 111.85 289.1 113.70 289.1C115.55 289.1 117.4 290.1 117.4 294.1V348.1Q117.4 349.6 113.70 349.6Q110 349.6 110 348.1z" fill="url(#pilcap)"/>
<path d="M122.5 340.5V304.8C122.5 300.8 124.10 299.8 125.70 299.8C127.30 299.8 128.9 300.8 128.9 304.8V340.5Q128.9 342 125.70 342Q122.5 342 122.5 340.5z" fill="url(#pil)"/>
<path d="M122.5 340.5V304.8C122.5 300.8 124.10 299.8 125.70 299.8C127.30 299.8 128.9 300.8 128.9 304.8V340.5Q128.9 342 125.70 342Q122.5 342 122.5 340.5z" fill="url(#pilcap)"/>
<path d="M133.9 333.8V312.2C133.9 308.2 135.50 307.2 137.10 307.2C138.70 307.2 140.3 308.2 140.3 312.2V333.8Q140.3 335.3 137.10 335.3Q133.9 335.3 133.9 333.8z" fill="url(#pil)"/>
<path d="M133.9 333.8V312.2C133.9 308.2 135.50 307.2 137.10 307.2C138.70 307.2 140.3 308.2 140.3 312.2V333.8Q140.3 335.3 137.10 335.3Q133.9 335.3 133.9 333.8z" fill="url(#pilcap)"/>
<path d="M145.2 328.1V318.1C145.2 314.1 146.75 313.1 148.30 313.1C149.85 313.1 151.4 314.1 151.4 318.1V328.1Q151.4 329.6 148.30 329.6Q145.2 329.6 145.2 328.1z" fill="url(#pil)"/>
<path d="M145.2 328.1V318.1C145.2 314.1 146.75 313.1 148.30 313.1C149.85 313.1 151.4 314.1 151.4 318.1V328.1Q151.4 329.6 148.30 329.6Q145.2 329.6 145.2 328.1z" fill="url(#pilcap)"/>
<polygon points="163,304.5 211.7,277.29999999999995 259.5,304.8 210.8,332" fill="#f9fafc"/>
<polygon points="163,304.5 210.8,332 210.5,422.8 163,396.6" fill="#c7cbd3"/>
<polygon points="210.8,332 259.5,304.8 258.6,397.6 210.5,422.8" fill="#ecEff5"/>
<path d="M186.500 348l15 8.500v18l-15-8.500z" fill="#f0c4a6" opacity="0.3" filter="url(#b1)"/>
<path d="M220.0 356.5l16.5 -5.5" stroke="#f2b088" stroke-width="1.0" opacity="0.45" stroke-linecap="round"/>
<path d="M220.0 358.1l16.5 -5.5" stroke="#f7d3bb" stroke-width="0.80" opacity="0.45" stroke-linecap="round"/>
<path d="M220.0 361.5l16.5 -5.5" stroke="#f2b088" stroke-width="1.0" opacity="0.45" stroke-linecap="round"/>
<path d="M220.0 363.1l16.5 -5.5" stroke="#f7d3bb" stroke-width="0.80" opacity="0.45" stroke-linecap="round"/>
<path d="M220.0 366.5l16.5 -5.5" stroke="#f2b088" stroke-width="1.0" opacity="0.45" stroke-linecap="round"/>
<path d="M220.0 368.1l16.5 -5.5" stroke="#f7d3bb" stroke-width="0.80" opacity="0.45" stroke-linecap="round"/>
<path d="M220.0 371.5l16.5 -5.5" stroke="#f2b088" stroke-width="1.0" opacity="0.45" stroke-linecap="round"/>
<path d="M220.0 373.1l16.5 -5.5" stroke="#f7d3bb" stroke-width="0.80" opacity="0.45" stroke-linecap="round"/>
<path d="M177.20 391.30l37 -19.5" stroke="#7e8187" stroke-width="6.0" opacity="1"/>
<path d="M176.92 390.77l37 -19.5" stroke="#a4a7ac" stroke-width="4.4" opacity="1"/>
<path d="M176.64 390.24l37 -19.5" stroke="#c9cbcf" stroke-width="2.8" opacity="1"/>
<path d="M176.31 389.62l37 -19.5" stroke="#eff0f1" stroke-width="1.2" opacity="1"/>
<ellipse cx="177.2" cy="391.3" rx="2.4" ry="3.0" transform="rotate(-28 177.2 391.3)" fill="#75787e"/>
<ellipse cx="177.1" cy="391.1" rx="1.1" ry="1.6" transform="rotate(-28 177.2 391.3)" fill="#e3e4e6"/>
<path d="M183.12 394.90l37 -19.5" stroke="#7e8187" stroke-width="6.0" opacity="1"/>
<path d="M182.84 394.37l37 -19.5" stroke="#a4a7ac" stroke-width="4.4" opacity="1"/>
<path d="M182.56 393.84l37 -19.5" stroke="#c9cbcf" stroke-width="2.8" opacity="1"/>
<path d="M182.23 393.22l37 -19.5" stroke="#eff0f1" stroke-width="1.2" opacity="1"/>
<ellipse cx="183.1" cy="394.9" rx="2.4" ry="3.0" transform="rotate(-28 183.1 394.9)" fill="#75787e"/>
<ellipse cx="183.0" cy="394.7" rx="1.1" ry="1.6" transform="rotate(-28 183.1 394.9)" fill="#e3e4e6"/>
<path d="M189.04 398.50l37 -19.5" stroke="#7e8187" stroke-width="6.0" opacity="1"/>
<path d="M188.76 397.97l37 -19.5" stroke="#a4a7ac" stroke-width="4.4" opacity="1"/>
<path d="M188.48 397.44l37 -19.5" stroke="#c9cbcf" stroke-width="2.8" opacity="1"/>
<path d="M188.15 396.82l37 -19.5" stroke="#eff0f1" stroke-width="1.2" opacity="1"/>
<ellipse cx="189.0" cy="398.5" rx="2.4" ry="3.0" transform="rotate(-28 189.0 398.5)" fill="#75787e"/>
<ellipse cx="188.9" cy="398.3" rx="1.1" ry="1.6" transform="rotate(-28 189.0 398.5)" fill="#e3e4e6"/>
<path d="M194.96 402.10l37 -19.5" stroke="#7e8187" stroke-width="6.0" opacity="1"/>
<path d="M194.68 401.57l37 -19.5" stroke="#a4a7ac" stroke-width="4.4" opacity="1"/>
<path d="M194.40 401.04l37 -19.5" stroke="#c9cbcf" stroke-width="2.8" opacity="1"/>
<path d="M194.07 400.42l37 -19.5" stroke="#eff0f1" stroke-width="1.2" opacity="1"/>
<ellipse cx="195.0" cy="402.1" rx="2.4" ry="3.0" transform="rotate(-28 195.0 402.1)" fill="#75787e"/>
<ellipse cx="194.9" cy="401.9" rx="1.1" ry="1.6" transform="rotate(-28 195.0 402.1)" fill="#e3e4e6"/>
<path d="M200.88 405.70l37 -19.5" stroke="#7e8187" stroke-width="6.0" opacity="1"/>
<path d="M200.60 405.17l37 -19.5" stroke="#a4a7ac" stroke-width="4.4" opacity="1"/>
<path d="M200.32 404.64l37 -19.5" stroke="#c9cbcf" stroke-width="2.8" opacity="1"/>
<path d="M199.99 404.02l37 -19.5" stroke="#eff0f1" stroke-width="1.2" opacity="1"/>
<ellipse cx="200.9" cy="405.7" rx="2.4" ry="3.0" transform="rotate(-28 200.9 405.7)" fill="#75787e"/>
<ellipse cx="200.8" cy="405.5" rx="1.1" ry="1.6" transform="rotate(-28 200.9 405.7)" fill="#e3e4e6"/>
<path d="M206.80 409.30l37 -19.5" stroke="#7e8187" stroke-width="6.0" opacity="1"/>
<path d="M206.52 408.77l37 -19.5" stroke="#a4a7ac" stroke-width="4.4" opacity="1"/>
<path d="M206.24 408.24l37 -19.5" stroke="#c9cbcf" stroke-width="2.8" opacity="1"/>
<path d="M205.91 407.62l37 -19.5" stroke="#eff0f1" stroke-width="1.2" opacity="1"/>
<ellipse cx="206.8" cy="409.3" rx="2.4" ry="3.0" transform="rotate(-28 206.8 409.3)" fill="#75787e"/>
<ellipse cx="206.7" cy="409.1" rx="1.1" ry="1.6" transform="rotate(-28 206.8 409.3)" fill="#e3e4e6"/>
<path d="M180.00 384.00l35.5 -19" stroke="#7e8187" stroke-width="6.0" opacity="1"/>
<path d="M179.72 383.47l35.5 -19" stroke="#a4a7ac" stroke-width="4.4" opacity="1"/>
<path d="M179.43 382.94l35.5 -19" stroke="#c9cbcf" stroke-width="2.8" opacity="1"/>
<path d="M179.10 382.32l35.5 -19" stroke="#eff0f1" stroke-width="1.2" opacity="1"/>
<ellipse cx="180.0" cy="384.0" rx="2.4" ry="3.0" transform="rotate(-28 180.0 384.0)" fill="#75787e"/>
<ellipse cx="179.9" cy="383.8" rx="1.1" ry="1.6" transform="rotate(-28 180.0 384.0)" fill="#e3e4e6"/>
<path d="M185.60 387.20l35.5 -19" stroke="#7e8187" stroke-width="6.0" opacity="1"/>
<path d="M185.32 386.67l35.5 -19" stroke="#a4a7ac" stroke-width="4.4" opacity="1"/>
<path d="M185.03 386.14l35.5 -19" stroke="#c9cbcf" stroke-width="2.8" opacity="1"/>
<path d="M184.70 385.52l35.5 -19" stroke="#eff0f1" stroke-width="1.2" opacity="1"/>
<ellipse cx="185.6" cy="387.2" rx="2.4" ry="3.0" transform="rotate(-28 185.6 387.2)" fill="#75787e"/>
<ellipse cx="185.5" cy="387.0" rx="1.1" ry="1.6" transform="rotate(-28 185.6 387.2)" fill="#e3e4e6"/>
<path d="M191.20 390.40l35.5 -19" stroke="#7e8187" stroke-width="6.0" opacity="1"/>
<path d="M190.92 389.87l35.5 -19" stroke="#a4a7ac" stroke-width="4.4" opacity="1"/>
<path d="M190.63 389.34l35.5 -19" stroke="#c9cbcf" stroke-width="2.8" opacity="1"/>
<path d="M190.30 388.72l35.5 -19" stroke="#eff0f1" stroke-width="1.2" opacity="1"/>
<ellipse cx="191.2" cy="390.4" rx="2.4" ry="3.0" transform="rotate(-28 191.2 390.4)" fill="#75787e"/>
<ellipse cx="191.1" cy="390.2" rx="1.1" ry="1.6" transform="rotate(-28 191.2 390.4)" fill="#e3e4e6"/>
<path d="M196.80 393.60l35.5 -19" stroke="#7e8187" stroke-width="6.0" opacity="1"/>
<path d="M196.52 393.07l35.5 -19" stroke="#a4a7ac" stroke-width="4.4" opacity="1"/>
<path d="M196.23 392.54l35.5 -19" stroke="#c9cbcf" stroke-width="2.8" opacity="1"/>
<path d="M195.90 391.92l35.5 -19" stroke="#eff0f1" stroke-width="1.2" opacity="1"/>
<ellipse cx="196.8" cy="393.6" rx="2.4" ry="3.0" transform="rotate(-28 196.8 393.6)" fill="#75787e"/>
<ellipse cx="196.7" cy="393.4" rx="1.1" ry="1.6" transform="rotate(-28 196.8 393.6)" fill="#e3e4e6"/>
<path d="M202.40 396.80l35.5 -19" stroke="#7e8187" stroke-width="6.0" opacity="1"/>
<path d="M202.12 396.27l35.5 -19" stroke="#a4a7ac" stroke-width="4.4" opacity="1"/>
<path d="M201.83 395.74l35.5 -19" stroke="#c9cbcf" stroke-width="2.8" opacity="1"/>
<path d="M201.50 395.12l35.5 -19" stroke="#eff0f1" stroke-width="1.2" opacity="1"/>
<ellipse cx="202.4" cy="396.8" rx="2.4" ry="3.0" transform="rotate(-28 202.4 396.8)" fill="#75787e"/>
<ellipse cx="202.3" cy="396.6" rx="1.1" ry="1.6" transform="rotate(-28 202.4 396.8)" fill="#e3e4e6"/>
<path d="M208.00 400.00l35.5 -19" stroke="#7e8187" stroke-width="6.0" opacity="1"/>
<path d="M207.72 399.47l35.5 -19" stroke="#a4a7ac" stroke-width="4.4" opacity="1"/>
<path d="M207.43 398.94l35.5 -19" stroke="#c9cbcf" stroke-width="2.8" opacity="1"/>
<path d="M207.10 398.32l35.5 -19" stroke="#eff0f1" stroke-width="1.2" opacity="1"/>
<ellipse cx="208.0" cy="400.0" rx="2.4" ry="3.0" transform="rotate(-28 208.0 400.0)" fill="#75787e"/>
<ellipse cx="207.9" cy="399.8" rx="1.1" ry="1.6" transform="rotate(-28 208.0 400.0)" fill="#e3e4e6"/>
<path d="M186.0 417.5l17 6.5" stroke="#f2b088" stroke-width="1.1" opacity="0.7" stroke-linecap="round"/>
<path d="M186.0 419.1l17 6.5" stroke="#f7d3bb" stroke-width="0.88" opacity="0.7" stroke-linecap="round"/>
<path d="M186.0 423.1l17 6.5" stroke="#f2b088" stroke-width="1.1" opacity="0.7" stroke-linecap="round"/>
<path d="M186.0 424.7l17 6.5" stroke="#f7d3bb" stroke-width="0.88" opacity="0.7" stroke-linecap="round"/>
<path d="M186.0 428.7l17 6.5" stroke="#f2b088" stroke-width="1.1" opacity="0.7" stroke-linecap="round"/>
<path d="M186.0 430.3l17 6.5" stroke="#f7d3bb" stroke-width="0.88" opacity="0.7" stroke-linecap="round"/>
<path d="M186.0 434.3l17 6.5" stroke="#f2b088" stroke-width="1.1" opacity="0.7" stroke-linecap="round"/>
<path d="M186.0 435.9l17 6.5" stroke="#f7d3bb" stroke-width="0.88" opacity="0.7" stroke-linecap="round"/>
<path d="M196.8 271.0 L195.4 271.1 L193.9 271.3 L192.5 271.5 L191.1 271.8 L189.9 272.2 L188.7 272.6 L187.8 273.1 L187.0 273.7 L186.4 274.2 L186.0 274.8 L185.9 275.4 L186.0 276.0 L186.3 276.7 L186.8 277.2 L187.6 277.8 L188.5 278.3 L189.6 278.7 L190.8 279.1 L192.2 279.4 L193.6 279.7 L195.0 279.9 L196.5 280.0 L197.9 280.0 L199.3 279.9 L200.5 279.8 L201.7 279.6 L202.6 279.4 L203.4 279.1 L204.0 278.8 L204.4 278.4 L204.5 278.1 L204.4 277.7 L204.1 277.4 L203.6 277.0 L202.8 276.7 L201.9 276.5 L200.8 276.3 L199.6 276.2 L198.2 276.1 L196.8 276.1 L195.4 276.2 L193.9 276.3 L192.5 276.6 L191.1 276.9 L189.9 277.3 L188.7 277.7 L187.8 278.2 L187.0 278.7 L186.4 279.3 L186.0 279.9 L185.9 280.5 L186.0 281.1 L186.3 281.7 L186.8 282.3 L187.6 282.8 L188.5 283.3 L189.6 283.8 L190.8 284.2 L192.2 284.5 L193.6 284.7 L195.0 284.9 L196.5 285.0 L197.9 285.0 L199.3 285.0 L200.5 284.9 L201.7 284.7 L202.6 284.4 L203.4 284.2 L204.0 283.8 L204.4 283.5 L204.5 283.1 L204.4 282.8 L204.1 282.4 L203.6 282.1 L202.8 281.8 L201.9 281.6 L200.8 281.4 L199.6 281.2 L198.2 281.2 L196.8 281.2 L195.4 281.2 L193.9 281.4 L192.5 281.6 L191.1 281.9 L189.9 282.3 L188.7 282.7 L187.8 283.2 L187.0 283.8 L186.4 284.3 L186.0 284.9 L185.9 285.6 L186.0 286.2 L186.3 286.8 L186.8 287.3 L187.6 287.9 L188.5 288.4 L189.6 288.8 L190.8 289.2 L192.2 289.6 L193.6 289.8 L195.0 290.0 L196.5 290.1 L197.9 290.1 L199.3 290.0 L200.5 289.9 L201.7 289.7 L202.6 289.5 L203.4 289.2 L204.0 288.9 L204.4 288.6 L204.5 288.2 L204.4 287.8 L204.1 287.5 L203.6 287.2 L202.8 286.9 L201.9 286.6 L200.8 286.4 L199.6 286.3 L198.2 286.2 L196.8 286.2 L195.4 286.3 L193.9 286.5 L192.5 286.7 L191.1 287.0 L189.9 287.4 L188.7 287.8 L187.8 288.3 L187.0 288.8 L186.4 289.4 L186.0 290.0 L185.9 290.6 L186.0 291.2 L186.3 291.8 L186.8 292.4 L187.6 293.0 L188.5 293.5 L189.6 293.9 L190.8 294.3 L192.2 294.6 L193.6 294.9 L195.0 295.0 L196.5 295.1 L197.9 295.1 L199.3 295.1 L200.5 295.0 L201.7 294.8 L202.6 294.6 L203.4 294.3 L204.0 294.0 L204.4 293.6 L204.5 293.3 L204.4 292.9 L204.1 292.5 L203.6 292.2 L202.8 291.9 L201.9 291.7 L200.8 291.5 L199.6 291.3 L198.2 291.3 L196.8 291.3 L195.4 291.4 L193.9 291.5 L192.5 291.8 L191.1 292.1 L189.9 292.4 L188.7 292.9 L187.8 293.4 L187.0 293.9 L186.4 294.5 L186.0 295.1 L185.9 295.7 L186.0 296.3 L186.3 296.9 L186.8 297.5 L187.6 298.0 L188.5 298.5 L189.6 299.0 L190.8 299.3 L192.2 299.7 L193.6 299.9 L195.0 300.1 L196.5 300.2 L197.9 300.2 L199.3 300.2 L200.5 300.0 L201.7 299.9 L202.6 299.6 L203.4 299.3 L204.0 299.0 L204.4 298.7 L204.5 298.3 L204.4 298.0 L204.1 297.6 L203.6 297.3 L202.8 297.0 L201.9 296.7 L200.8 296.5 L199.6 296.4 L198.2 296.3 L196.8 296.3 L195.4 296.4 L193.9 296.6 L192.5 296.8 L191.1 297.1" fill="none" stroke="#f1a87c" stroke-width="1.7" stroke-linecap="round"/>
<path d="M228.4 271.0 L229.8 271.1 L231.3 271.3 L232.7 271.5 L234.1 271.8 L235.3 272.2 L236.5 272.6 L237.4 273.1 L238.2 273.7 L238.8 274.2 L239.2 274.8 L239.3 275.4 L239.2 276.0 L238.9 276.7 L238.4 277.2 L237.6 277.8 L236.7 278.3 L235.6 278.7 L234.4 279.1 L233.0 279.4 L231.6 279.7 L230.2 279.9 L228.7 280.0 L227.3 280.0 L225.9 279.9 L224.7 279.8 L223.5 279.6 L222.6 279.4 L221.8 279.1 L221.2 278.8 L220.8 278.4 L220.7 278.1 L220.8 277.7 L221.1 277.4 L221.6 277.0 L222.4 276.7 L223.3 276.5 L224.4 276.3 L225.6 276.2 L227.0 276.1 L228.4 276.1 L229.8 276.2 L231.3 276.3 L232.7 276.6 L234.1 276.9 L235.3 277.3 L236.5 277.7 L237.4 278.2 L238.2 278.7 L238.8 279.3 L239.2 279.9 L239.3 280.5 L239.2 281.1 L238.9 281.7 L238.4 282.3 L237.6 282.8 L236.7 283.3 L235.6 283.8 L234.4 284.2 L233.0 284.5 L231.6 284.7 L230.2 284.9 L228.7 285.0 L227.3 285.0 L225.9 285.0 L224.7 284.9 L223.5 284.7 L222.6 284.4 L221.8 284.2 L221.2 283.8 L220.8 283.5 L220.7 283.1 L220.8 282.8 L221.1 282.4 L221.6 282.1 L222.4 281.8 L223.3 281.6 L224.4 281.4 L225.6 281.2 L227.0 281.2 L228.4 281.2 L229.8 281.2 L231.3 281.4 L232.7 281.6 L234.1 281.9 L235.3 282.3 L236.5 282.7 L237.4 283.2 L238.2 283.8 L238.8 284.3 L239.2 284.9 L239.3 285.6 L239.2 286.2 L238.9 286.8 L238.4 287.3 L237.6 287.9 L236.7 288.4 L235.6 288.8 L234.4 289.2 L233.0 289.6 L231.6 289.8 L230.2 290.0 L228.7 290.1 L227.3 290.1 L225.9 290.0 L224.7 289.9 L223.5 289.7 L222.6 289.5 L221.8 289.2 L221.2 288.9 L220.8 288.6 L220.7 288.2 L220.8 287.8 L221.1 287.5 L221.6 287.2 L222.4 286.9 L223.3 286.6 L224.4 286.4 L225.6 286.3 L227.0 286.2 L228.4 286.2 L229.8 286.3 L231.3 286.5 L232.7 286.7 L234.1 287.0 L235.3 287.4 L236.5 287.8 L237.4 288.3 L238.2 288.8 L238.8 289.4 L239.2 290.0 L239.3 290.6 L239.2 291.2 L238.9 291.8 L238.4 292.4 L237.6 293.0 L236.7 293.5 L235.6 293.9 L234.4 294.3 L233.0 294.6 L231.6 294.9 L230.2 295.0 L228.7 295.1 L227.3 295.1 L225.9 295.1 L224.7 295.0 L223.5 294.8 L222.6 294.6 L221.8 294.3 L221.2 294.0 L220.8 293.6 L220.7 293.3 L220.8 292.9 L221.1 292.5 L221.6 292.2 L222.4 291.9 L223.3 291.7 L224.4 291.5 L225.6 291.3 L227.0 291.3 L228.4 291.3 L229.8 291.4 L231.3 291.5 L232.7 291.8 L234.1 292.1 L235.3 292.4 L236.5 292.9 L237.4 293.4 L238.2 293.9 L238.8 294.5 L239.2 295.1 L239.3 295.7 L239.2 296.3 L238.9 296.9 L238.4 297.5 L237.6 298.0 L236.7 298.5 L235.6 299.0 L234.4 299.3 L233.0 299.7 L231.6 299.9 L230.2 300.1 L228.7 300.2 L227.3 300.2 L225.9 300.2 L224.7 300.0 L223.5 299.9 L222.6 299.6 L221.8 299.3 L221.2 299.0 L220.8 298.7 L220.7 298.3 L220.8 298.0 L221.1 297.6 L221.6 297.3 L222.4 297.0 L223.3 296.7 L224.4 296.5 L225.6 296.4 L227.0 296.3 L228.4 296.3 L229.8 296.4 L231.3 296.6 L232.7 296.8 L234.1 297.1" fill="none" stroke="#f1a87c" stroke-width="1.7" stroke-linecap="round"/>
<rect x="207.8" y="293.1" width="9.0" height="7.0" rx="1.5" fill="url(#bar)"/>
<rect x="199.7" y="299.8" width="25.2" height="7.0" rx="1.5" fill="url(#bar)"/>
<rect x="188.3" y="306.5" width="48.0" height="7.7" rx="1.5" fill="url(#bar)"/>
<rect x="174.2" y="313.9" width="76.2" height="14.3" rx="3.2" fill="url(#bar)"/>
<rect x="188.3" y="327.9" width="48.0" height="7.7" rx="1.5" fill="url(#bar)"/>
<rect x="198.3" y="335.3" width="28.0" height="7.0" rx="1.5" fill="url(#bar)"/>
<rect x="207.1" y="342" width="10.4" height="8.4" rx="1.5" fill="url(#bar)"/>
<path d="M199.70000000000002 299.800L212.3 297.500L224.9 299.800z" fill="#d81c22"/>
<rect x="199.7" y="305.6" width="25.2" height="1.1" fill="#8e0a10" opacity="0.5"/>
<rect x="188.3" y="309.4" width="48.0" height="1.1" fill="#8e0a10" opacity="0.5"/>
<rect x="188.3" y="313.2" width="48.0" height="1.1" fill="#8e0a10" opacity="0.5"/>
<rect x="188.3" y="317.8" width="48.0" height="1.1" fill="#8e0a10" opacity="0.5"/>
<rect x="188.3" y="322.6" width="48.0" height="1.1" fill="#8e0a10" opacity="0.5"/>
<rect x="188.3" y="327.2" width="48.0" height="1.1" fill="#8e0a10" opacity="0.5"/>
<rect x="188.3" y="331.2" width="48.0" height="1.1" fill="#8e0a10" opacity="0.5"/>
<rect x="188.3" y="334.8" width="48.0" height="1.1" fill="#8e0a10" opacity="0.5"/>
<rect x="198.3" y="338.4" width="28.0" height="1.1" fill="#8e0a10" opacity="0.5"/>
<polygon points="266.6,312 312.79999999999995,286 360.7,313 314.5,339" fill="#f9fafc"/>
<polygon points="266.6,312 314.5,339 314.3,427.7 266.6,402.4" fill="#c7cbd3"/>
<polygon points="314.5,339 360.7,313 360.7,403.4 314.3,427.7" fill="#ecEff5"/>
<path d="M287 351l18 10v21l-18-10z" fill="#f0c4a6" opacity="0.3" filter="url(#b1)"/>
<path d="M316.5 347.0l19 8" stroke="#f2b088" stroke-width="1.0" opacity="0.6" stroke-linecap="round"/>
<path d="M316.5 348.6l19 8" stroke="#f7d3bb" stroke-width="0.80" opacity="0.6" stroke-linecap="round"/>
<path d="M316.5 352.4l19 8" stroke="#f2b088" stroke-width="1.0" opacity="0.6" stroke-linecap="round"/>
<path d="M316.5 354.0l19 8" stroke="#f7d3bb" stroke-width="0.80" opacity="0.6" stroke-linecap="round"/>
<path d="M316.5 357.8l19 8" stroke="#f2b088" stroke-width="1.0" opacity="0.6" stroke-linecap="round"/>
<path d="M316.5 359.4l19 8" stroke="#f7d3bb" stroke-width="0.80" opacity="0.6" stroke-linecap="round"/>
<path d="M316.5 363.2l19 8" stroke="#f2b088" stroke-width="1.0" opacity="0.6" stroke-linecap="round"/>
<path d="M316.5 364.8l19 8" stroke="#f7d3bb" stroke-width="0.80" opacity="0.6" stroke-linecap="round"/>
<path d="M316.5 368.6l19 8" stroke="#f2b088" stroke-width="1.0" opacity="0.6" stroke-linecap="round"/>
<path d="M316.5 370.2l19 8" stroke="#f7d3bb" stroke-width="0.80" opacity="0.6" stroke-linecap="round"/>
<path d="M316.5 374.0l19 8" stroke="#f2b088" stroke-width="1.0" opacity="0.6" stroke-linecap="round"/>
<path d="M316.5 375.6l19 8" stroke="#f7d3bb" stroke-width="0.80" opacity="0.6" stroke-linecap="round"/>
<path d="M281.00 396.00l37 -20.5" stroke="#7e8187" stroke-width="6.0" opacity="1"/>
<path d="M280.71 395.48l37 -20.5" stroke="#a4a7ac" stroke-width="4.4" opacity="1"/>
<path d="M280.42 394.95l37 -20.5" stroke="#c9cbcf" stroke-width="2.8" opacity="1"/>
<path d="M280.08 394.34l37 -20.5" stroke="#eff0f1" stroke-width="1.2" opacity="1"/>
<ellipse cx="281.0" cy="396.0" rx="2.4" ry="3.0" transform="rotate(-28 281.0 396.0)" fill="#75787e"/>
<ellipse cx="280.9" cy="395.8" rx="1.1" ry="1.6" transform="rotate(-28 281.0 396.0)" fill="#e3e4e6"/>
<path d="M286.70 399.50l37 -20.5" stroke="#7e8187" stroke-width="6.0" opacity="1"/>
<path d="M286.41 398.98l37 -20.5" stroke="#a4a7ac" stroke-width="4.4" opacity="1"/>
<path d="M286.12 398.45l37 -20.5" stroke="#c9cbcf" stroke-width="2.8" opacity="1"/>
<path d="M285.78 397.84l37 -20.5" stroke="#eff0f1" stroke-width="1.2" opacity="1"/>
<ellipse cx="286.7" cy="399.5" rx="2.4" ry="3.0" transform="rotate(-28 286.7 399.5)" fill="#75787e"/>
<ellipse cx="286.6" cy="399.3" rx="1.1" ry="1.6" transform="rotate(-28 286.7 399.5)" fill="#e3e4e6"/>
<path d="M292.40 403.00l37 -20.5" stroke="#7e8187" stroke-width="6.0" opacity="1"/>
<path d="M292.11 402.48l37 -20.5" stroke="#a4a7ac" stroke-width="4.4" opacity="1"/>
<path d="M291.82 401.95l37 -20.5" stroke="#c9cbcf" stroke-width="2.8" opacity="1"/>
<path d="M291.48 401.34l37 -20.5" stroke="#eff0f1" stroke-width="1.2" opacity="1"/>
<ellipse cx="292.4" cy="403.0" rx="2.4" ry="3.0" transform="rotate(-28 292.4 403.0)" fill="#75787e"/>
<ellipse cx="292.3" cy="402.8" rx="1.1" ry="1.6" transform="rotate(-28 292.4 403.0)" fill="#e3e4e6"/>
<path d="M298.10 406.50l37 -20.5" stroke="#7e8187" stroke-width="6.0" opacity="1"/>
<path d="M297.81 405.98l37 -20.5" stroke="#a4a7ac" stroke-width="4.4" opacity="1"/>
<path d="M297.52 405.45l37 -20.5" stroke="#c9cbcf" stroke-width="2.8" opacity="1"/>
<path d="M297.18 404.84l37 -20.5" stroke="#eff0f1" stroke-width="1.2" opacity="1"/>
<ellipse cx="298.1" cy="406.5" rx="2.4" ry="3.0" transform="rotate(-28 298.1 406.5)" fill="#75787e"/>
<ellipse cx="298.0" cy="406.3" rx="1.1" ry="1.6" transform="rotate(-28 298.1 406.5)" fill="#e3e4e6"/>
<path d="M303.80 410.00l37 -20.5" stroke="#7e8187" stroke-width="6.0" opacity="1"/>
<path d="M303.51 409.48l37 -20.5" stroke="#a4a7ac" stroke-width="4.4" opacity="1"/>
<path d="M303.22 408.95l37 -20.5" stroke="#c9cbcf" stroke-width="2.8" opacity="1"/>
<path d="M302.88 408.34l37 -20.5" stroke="#eff0f1" stroke-width="1.2" opacity="1"/>
<ellipse cx="303.8" cy="410.0" rx="2.4" ry="3.0" transform="rotate(-28 303.8 410.0)" fill="#75787e"/>
<ellipse cx="303.7" cy="409.8" rx="1.1" ry="1.6" transform="rotate(-28 303.8 410.0)" fill="#e3e4e6"/>
<path d="M309.50 413.50l37 -20.5" stroke="#7e8187" stroke-width="6.0" opacity="1"/>
<path d="M309.21 412.98l37 -20.5" stroke="#a4a7ac" stroke-width="4.4" opacity="1"/>
<path d="M308.92 412.45l37 -20.5" stroke="#c9cbcf" stroke-width="2.8" opacity="1"/>
<path d="M308.58 411.84l37 -20.5" stroke="#eff0f1" stroke-width="1.2" opacity="1"/>
<ellipse cx="309.5" cy="413.5" rx="2.4" ry="3.0" transform="rotate(-28 309.5 413.5)" fill="#75787e"/>
<ellipse cx="309.4" cy="413.3" rx="1.1" ry="1.6" transform="rotate(-28 309.5 413.5)" fill="#e3e4e6"/>
<path d="M283.50 388.60l35 -20" stroke="#7e8187" stroke-width="6.0" opacity="1"/>
<path d="M283.20 388.08l35 -20" stroke="#a4a7ac" stroke-width="4.4" opacity="1"/>
<path d="M282.90 387.56l35 -20" stroke="#c9cbcf" stroke-width="2.8" opacity="1"/>
<path d="M282.56 386.95l35 -20" stroke="#eff0f1" stroke-width="1.2" opacity="1"/>
<ellipse cx="283.5" cy="388.6" rx="2.4" ry="3.0" transform="rotate(-28 283.5 388.6)" fill="#75787e"/>
<ellipse cx="283.4" cy="388.4" rx="1.1" ry="1.6" transform="rotate(-28 283.5 388.6)" fill="#e3e4e6"/>
<path d="M289.20 391.98l35 -20" stroke="#7e8187" stroke-width="6.0" opacity="1"/>
<path d="M288.90 391.46l35 -20" stroke="#a4a7ac" stroke-width="4.4" opacity="1"/>
<path d="M288.60 390.94l35 -20" stroke="#c9cbcf" stroke-width="2.8" opacity="1"/>
<path d="M288.26 390.33l35 -20" stroke="#eff0f1" stroke-width="1.2" opacity="1"/>
<ellipse cx="289.2" cy="392.0" rx="2.4" ry="3.0" transform="rotate(-28 289.2 392.0)" fill="#75787e"/>
<ellipse cx="289.1" cy="391.8" rx="1.1" ry="1.6" transform="rotate(-28 289.2 392.0)" fill="#e3e4e6"/>
<path d="M294.90 395.36l35 -20" stroke="#7e8187" stroke-width="6.0" opacity="1"/>
<path d="M294.60 394.84l35 -20" stroke="#a4a7ac" stroke-width="4.4" opacity="1"/>
<path d="M294.30 394.32l35 -20" stroke="#c9cbcf" stroke-width="2.8" opacity="1"/>
<path d="M293.96 393.71l35 -20" stroke="#eff0f1" stroke-width="1.2" opacity="1"/>
<ellipse cx="294.9" cy="395.4" rx="2.4" ry="3.0" transform="rotate(-28 294.9 395.4)" fill="#75787e"/>
<ellipse cx="294.8" cy="395.2" rx="1.1" ry="1.6" transform="rotate(-28 294.9 395.4)" fill="#e3e4e6"/>
<path d="M300.60 398.74l35 -20" stroke="#7e8187" stroke-width="6.0" opacity="1"/>
<path d="M300.30 398.22l35 -20" stroke="#a4a7ac" stroke-width="4.4" opacity="1"/>
<path d="M300.00 397.70l35 -20" stroke="#c9cbcf" stroke-width="2.8" opacity="1"/>
<path d="M299.66 397.09l35 -20" stroke="#eff0f1" stroke-width="1.2" opacity="1"/>
<ellipse cx="300.6" cy="398.7" rx="2.4" ry="3.0" transform="rotate(-28 300.6 398.7)" fill="#75787e"/>
<ellipse cx="300.5" cy="398.5" rx="1.1" ry="1.6" transform="rotate(-28 300.6 398.7)" fill="#e3e4e6"/>
<path d="M306.30 402.12l35 -20" stroke="#7e8187" stroke-width="6.0" opacity="1"/>
<path d="M306.00 401.60l35 -20" stroke="#a4a7ac" stroke-width="4.4" opacity="1"/>
<path d="M305.70 401.08l35 -20" stroke="#c9cbcf" stroke-width="2.8" opacity="1"/>
<path d="M305.36 400.47l35 -20" stroke="#eff0f1" stroke-width="1.2" opacity="1"/>
<ellipse cx="306.3" cy="402.1" rx="2.4" ry="3.0" transform="rotate(-28 306.3 402.1)" fill="#75787e"/>
<ellipse cx="306.2" cy="401.9" rx="1.1" ry="1.6" transform="rotate(-28 306.3 402.1)" fill="#e3e4e6"/>
<path d="M312.00 405.50l35 -20" stroke="#7e8187" stroke-width="6.0" opacity="1"/>
<path d="M311.70 404.98l35 -20" stroke="#a4a7ac" stroke-width="4.4" opacity="1"/>
<path d="M311.40 404.46l35 -20" stroke="#c9cbcf" stroke-width="2.8" opacity="1"/>
<path d="M311.06 403.85l35 -20" stroke="#eff0f1" stroke-width="1.2" opacity="1"/>
<ellipse cx="312.0" cy="405.5" rx="2.4" ry="3.0" transform="rotate(-28 312.0 405.5)" fill="#75787e"/>
<ellipse cx="311.9" cy="405.3" rx="1.1" ry="1.6" transform="rotate(-28 312.0 405.5)" fill="#e3e4e6"/>
<path d="M317.0 418.0l20 8" stroke="#f2b088" stroke-width="1.1" opacity="0.7" stroke-linecap="round"/>
<path d="M317.0 419.6l20 8" stroke="#f7d3bb" stroke-width="0.88" opacity="0.7" stroke-linecap="round"/>
<path d="M317.0 423.6l20 8" stroke="#f2b088" stroke-width="1.1" opacity="0.7" stroke-linecap="round"/>
<path d="M317.0 425.2l20 8" stroke="#f7d3bb" stroke-width="0.88" opacity="0.7" stroke-linecap="round"/>
<path d="M317.0 429.2l20 8" stroke="#f2b088" stroke-width="1.1" opacity="0.7" stroke-linecap="round"/>
<path d="M317.0 430.8l20 8" stroke="#f7d3bb" stroke-width="0.88" opacity="0.7" stroke-linecap="round"/>
<path d="M317.0 434.8l20 8" stroke="#f2b088" stroke-width="1.1" opacity="0.7" stroke-linecap="round"/>
<path d="M317.0 436.4l20 8" stroke="#f7d3bb" stroke-width="0.88" opacity="0.7" stroke-linecap="round"/>
<path d="M317.0 440.4l20 8" stroke="#f2b088" stroke-width="1.1" opacity="0.7" stroke-linecap="round"/>
<path d="M317.0 442.0l20 8" stroke="#f7d3bb" stroke-width="0.88" opacity="0.7" stroke-linecap="round"/>
<path d="M286.6 290.6l21.2 -7.9" stroke="#f2b088" stroke-width="1.1" opacity="0.75" stroke-linecap="round"/>
<path d="M286.6 292.2l21.2 -7.9" stroke="#f7d3bb" stroke-width="0.88" opacity="0.75" stroke-linecap="round"/>
<path d="M286.6 296.4l21.2 -7.9" stroke="#f2b088" stroke-width="1.1" opacity="0.75" stroke-linecap="round"/>
<path d="M286.6 298.0l21.2 -7.9" stroke="#f7d3bb" stroke-width="0.88" opacity="0.75" stroke-linecap="round"/>
<path d="M286.6 302.2l21.2 -7.9" stroke="#f2b088" stroke-width="1.1" opacity="0.75" stroke-linecap="round"/>
<path d="M286.6 303.8l21.2 -7.9" stroke="#f7d3bb" stroke-width="0.88" opacity="0.75" stroke-linecap="round"/>
<path d="M286.6 308.0l21.2 -7.9" stroke="#f2b088" stroke-width="1.1" opacity="0.75" stroke-linecap="round"/>
<path d="M286.6 309.6l21.2 -7.9" stroke="#f7d3bb" stroke-width="0.88" opacity="0.75" stroke-linecap="round"/>
<path d="M317.3 279.5l19 13.2" stroke="#f2b088" stroke-width="1.1" opacity="0.5" stroke-linecap="round"/>
<path d="M317.3 281.1l19 13.2" stroke="#f7d3bb" stroke-width="0.88" opacity="0.5" stroke-linecap="round"/>
<path d="M317.3 285.3l19 13.2" stroke="#f2b088" stroke-width="1.1" opacity="0.5" stroke-linecap="round"/>
<path d="M317.3 286.9l19 13.2" stroke="#f7d3bb" stroke-width="0.88" opacity="0.5" stroke-linecap="round"/>
<path d="M317.3 291.1l19 13.2" stroke="#f2b088" stroke-width="1.1" opacity="0.5" stroke-linecap="round"/>
<path d="M317.3 292.7l19 13.2" stroke="#f7d3bb" stroke-width="0.88" opacity="0.5" stroke-linecap="round"/>
<path d="M317.3 296.9l19 13.2" stroke="#f2b088" stroke-width="1.1" opacity="0.5" stroke-linecap="round"/>
<path d="M317.3 298.5l19 13.2" stroke="#f7d3bb" stroke-width="0.88" opacity="0.5" stroke-linecap="round"/>
</g>
</svg>
</body></html>
